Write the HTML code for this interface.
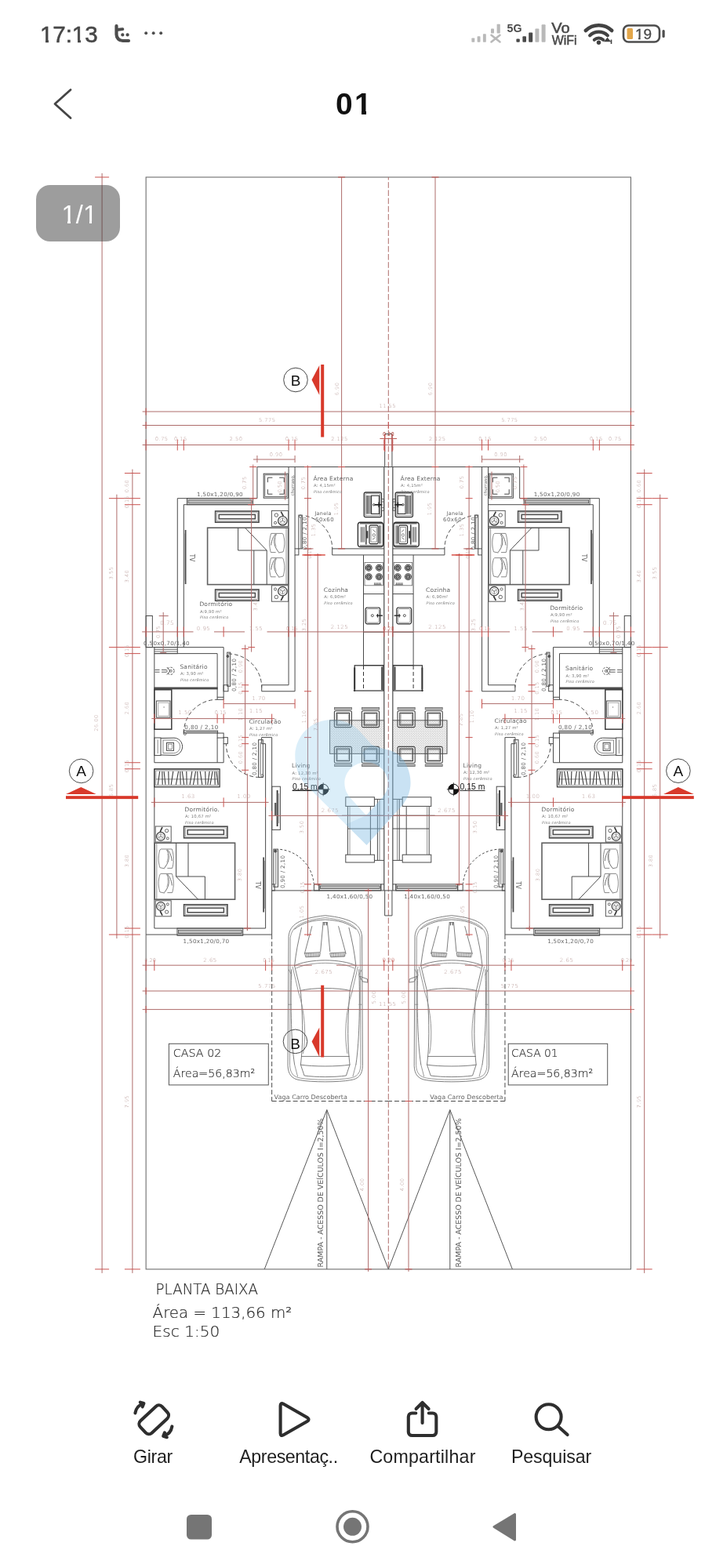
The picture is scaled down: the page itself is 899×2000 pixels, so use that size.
<!DOCTYPE html>
<html lang="pt-BR">
<head>
<meta charset="utf-8">
<title>01</title>
<style>
html,body{margin:0;padding:0;background:#fff;}
body{width:899px;height:2000px;position:relative;overflow:hidden;font-family:"Liberation Sans",sans-serif;color:#222;}
.abs{position:absolute;will-change:transform;}
#status{left:0;top:0;width:899px;height:84px;}
#clock{left:50.8px;top:27px;font-size:29.6px;line-height:34px;color:#484848;letter-spacing:-0.1px;-webkit-text-stroke:0.55px #484848;}
#title{left:427.9px;top:109.6px;white-space:nowrap;font-size:39px;letter-spacing:2.4px;line-height:46px;font-weight:bold;color:#111;}
#badge{left:46px;top:237.6px;margin-top:-1.6px;padding-top:1.6px;box-sizing:border-box;width:107px;height:72px;border-radius:18px;background:rgba(60,60,60,0.5);color:#fff;font-size:32.5px;line-height:72px;text-align:left;letter-spacing:0.2px;text-indent:32.6px;white-space:nowrap;overflow:hidden;}
.m{position:absolute;display:block;background:#fff;}
#badge .m{background:#9d9d9d;}
#plan{left:0;top:0;width:899px;height:2000px;will-change:transform;transform:translateZ(0);}
#plan text.cad{font-family:"DejaVu Sans Light","DejaVu Sans","Liberation Sans",sans-serif;font-weight:200;}
#plan text.cadn{font-family:"DejaVu Sans","Liberation Sans",sans-serif;font-weight:400;}
#plan text.ui{font-family:"Liberation Sans",sans-serif;}
.tool{top:1782px;width:200px;text-align:center;font-size:23.2px;line-height:26px;color:#1e1e1e;}
.tool svg{display:block;margin:0 auto;}
.tool span{display:block;margin-top:5.3px;white-space:nowrap;}
#nav{left:0;top:1900px;width:899px;height:100px;}
</style>
</head>
<body>
<div id="status" class="abs">
<div id="clock" class="abs">17:13<i class="m" style="left:1.500px;top:23.500px;width:5.700px;height:4.400px"></i><i class="m" style="left:10.600px;top:23.500px;width:5.800px;height:4.400px"></i><i class="m" style="left:41.500px;top:23.500px;width:6.600px;height:4.400px"></i><i class="m" style="left:51.500px;top:23.500px;width:6px;height:4.400px"></i></div>
<svg class="abs" style="left:140px;top:24px" width="32" height="36" viewBox="0 0 32 36">
<path d="M8.5 9 V20 a8 8 0 0 0 8 8 h7.5" fill="none" stroke="#4d4d4d" stroke-width="4.2" stroke-linecap="round"/>
<path d="M9 14 l7.4 -0.8" fill="none" stroke="#4d4d4d" stroke-width="3.8" stroke-linecap="round"/>
<circle cx="16.300" cy="20.400" r="2.100" fill="#4d4d4d"/><circle cx="22.600" cy="20.400" r="2.100" fill="#4d4d4d"/>
</svg>
<svg id="dots" class="abs" style="left:180px;top:34px" width="32" height="14" viewBox="180 34 32 14" role="img"><title>···</title><circle cx="186.200" cy="42.200" r="1.950" fill="#4d4d4d"/><circle cx="195.700" cy="42.200" r="1.950" fill="#4d4d4d"/><circle cx="205.200" cy="42.200" r="1.950" fill="#4d4d4d"/></svg>
<svg class="abs" style="left:596px;top:24px" width="260" height="40" viewBox="596 24 260 40">
<g fill="#b9b9b9">
<rect x="601.400" y="48.500" width="3.900" height="5.300" rx="0.800"/><rect x="608.600" y="46.300" width="3.900" height="7.500" rx="0.800"/><rect x="615.900" y="43.300" width="3.900" height="10.500" rx="0.800"/>
<rect x="626" y="36.500" width="4" height="6" rx="0.800"/><rect x="633.600" y="30.700" width="4.200" height="11.800" rx="0.800"/>
</g>
<path d="M626.500 44.800 l11 8.600 M637.500 44.800 l-11 8.600" stroke="#b9b9b9" stroke-width="2.600" fill="none" stroke-linecap="round"/>
<text x="646.600" y="40.600" font-family="Liberation Sans,sans-serif" font-weight="bold" font-size="14.200" fill="#4a4a4a">5G</text>
<g fill="#4a4a4a">
<rect x="658.400" y="49.400" width="4.400" height="4.400" rx="1"/><rect x="666.400" y="46.300" width="4.600" height="7.500" rx="1"/><rect x="674.200" y="41.500" width="5" height="12.300" rx="1"/>
</g>
<rect x="682.400" y="36.400" width="5" height="17.400" rx="1" fill="#b9b9b9"/><rect x="690.600" y="31.300" width="5" height="22.500" rx="1" fill="#b9b9b9"/>
<text x="703.200" y="41.600" font-family="Liberation Sans,sans-serif" font-size="17.600" fill="#4a4a4a" stroke="#4a4a4a" stroke-width="0.550" textLength="23.400" lengthAdjust="spacingAndGlyphs">Vo</text>
<text x="703.800" y="56.600" font-family="Liberation Sans,sans-serif" font-size="17.400" fill="#4a4a4a" stroke="#4a4a4a" stroke-width="0.550" textLength="31.800" lengthAdjust="spacingAndGlyphs">WiFi</text>
<g fill="none" stroke="#424242" stroke-linecap="round">
<path d="M746.800 39 a24 24 0 0 1 33.400 0" stroke-width="4.600"/>
<path d="M752.200 45.200 a16.500 16.500 0 0 1 22.600 0" stroke-width="4.300"/>
<path d="M757.800 50.800 a8.500 8.500 0 0 1 11.400 0" stroke-width="4"/>
</g>
<circle cx="763.500" cy="54.300" r="2.700" fill="#424242"/>
<path d="M771.500 52.500 l3 -3.500 l3 3.500 z M779.500 50.500 v5.500" fill="#424242" stroke="#424242" stroke-width="1.600"/>
<rect x="795" y="32.5" width="46" height="21" rx="6.5" fill="#fff" stroke="#4d4d4d" stroke-width="2.6"/>
<rect x="799.5" y="36" width="7.5" height="14" rx="1.5" fill="#e3a64a"/>
<rect x="844.5" y="38" width="3.2" height="10" rx="1.5" fill="#4d4d4d"/>
<text x="820.600" y="50" text-anchor="middle" font-family="Liberation Sans,sans-serif" font-size="19" fill="#4a4a4a" stroke="#4a4a4a" stroke-width="0.300">19</text>
<rect x="810.300" y="47.600" width="3.700" height="3.600" fill="#fff"/><rect x="816.700" y="47.600" width="3.500" height="3.600" fill="#fff"/>
</svg>
</div>
<svg class="abs" style="left:60px;top:106px" width="40" height="54" viewBox="60 106 40 54"><path d="M90 114.5 L70 132.5 L90 150.5" fill="none" stroke="#454545" stroke-width="2.8" stroke-linecap="round" stroke-linejoin="round"/></svg>
<div id="title" class="abs">01<i class="m" style="left:24.100px;top:32px;width:9px;height:4.800px"></i><i class="m" style="left:38.600px;top:32px;width:8px;height:4.800px"></i></div>
<svg id="plan" class="abs" width="899" height="2000" viewBox="0 0 899 2000">
<defs><pattern id="hatch" width="3" height="3" patternUnits="userSpaceOnUse"><rect width="3" height="3" fill="#f0f0f0"/><circle cx="0.8" cy="0.8" r="0.55" fill="#b2b2b2"/><circle cx="2.3" cy="2.3" r="0.55" fill="#bababa"/></pattern></defs>
<rect x="186.15" y="226" width="618.3" height="1392.9" fill="none" stroke="#6e6e6e" stroke-width="1.1"/>
<line x1="495.3" y1="226" x2="495.3" y2="1618.9" stroke="#ae6c6a" stroke-width="1" stroke-dasharray="7.6 2.6" stroke-dashoffset="4"/>
<line x1="327.93" y1="595.55" x2="489.76" y2="595.55" stroke="#4a4a4a" stroke-width="1"/>
<line x1="327.93" y1="595.55" x2="327.93" y2="635.68" stroke="#4a4a4a" stroke-width="1"/>
<line x1="226.28" y1="635.68" x2="327.93" y2="635.68" stroke="#4a4a4a" stroke-width="1"/>
<line x1="226.28" y1="635.68" x2="226.28" y2="825.6" stroke="#4a4a4a" stroke-width="1"/>
<line x1="186.15" y1="825.6" x2="285.12" y2="825.6" stroke="#4a4a4a" stroke-width="1"/>
<rect x="186.15" y="785.48" width="8.2" height="40.12" fill="none" stroke="#4a4a4a" stroke-width="1"/>
<line x1="234.3" y1="643.7" x2="368.05" y2="643.7" stroke="#4a4a4a" stroke-width="1"/>
<line x1="234.3" y1="643.7" x2="234.3" y2="825.6" stroke="#4a4a4a" stroke-width="1"/>
<line x1="368.05" y1="595.55" x2="368.05" y2="873.75" stroke="#4a4a4a" stroke-width="1"/>
<line x1="376.07" y1="595.55" x2="376.07" y2="699.88" stroke="#4a4a4a" stroke-width="1"/>
<line x1="376.07" y1="707.9" x2="376.07" y2="881.78" stroke="#4a4a4a" stroke-width="1"/>
<line x1="333.73" y1="873.75" x2="368.05" y2="873.75" stroke="#4a4a4a" stroke-width="1"/>
<line x1="333.73" y1="881.78" x2="376.07" y2="881.78" stroke="#4a4a4a" stroke-width="1"/>
<line x1="333.73" y1="873.75" x2="333.73" y2="881.78" stroke="#4a4a4a" stroke-width="1"/>
<rect x="285.12" y="873.75" width="5.8" height="8.02" fill="none" stroke="#4a4a4a" stroke-width="1"/>
<rect x="289.73" y="832.12" width="4" height="43.13" fill="none" stroke="#4a4a4a" stroke-width="1"/>
<line x1="291.82" y1="835.62" x2="291.82" y2="873.75" stroke="#888" stroke-width="0.7"/>
<circle cx="290.32" cy="837.02" r="1.5" fill="#555" stroke="#4a4a4a" stroke-width="0.8"/>
<path d="M290.93 833.95 L293.72 834.04 L296.51 834.32 L299.27 834.77 L302 835.41 L304.68 836.22 L307.3 837.21 L309.85 838.36 L312.33 839.68 L314.7 841.16 L316.98 842.79 L319.15 844.57 L321.19 846.49 L323.1 848.53 L324.88 850.7 L326.51 852.97 L327.99 855.35 L329.31 857.82 L330.47 860.37 L331.45 862.99 L332.27 865.67 L332.9 868.4 L333.36 871.16 L333.63 873.95 L333.73 876.75" fill="none" stroke="#4a4a4a" stroke-width="1" stroke-dasharray="5 3"/>
<rect x="376.07" y="699.88" width="4.8" height="8.02" fill="none" stroke="#4a4a4a" stroke-width="1"/>
<line x1="423.68" y1="699.88" x2="489.76" y2="699.88" stroke="#4a4a4a" stroke-width="1"/>
<line x1="423.68" y1="707.9" x2="489.76" y2="707.9" stroke="#4a4a4a" stroke-width="1"/>
<line x1="423.68" y1="699.88" x2="423.68" y2="707.9" stroke="#4a4a4a" stroke-width="1"/>
<rect x="380.88" y="657.08" width="4.4" height="42.8" fill="none" stroke="#4a4a4a" stroke-width="1"/>
<line x1="383.77" y1="660.08" x2="383.77" y2="699.88" stroke="#4a4a4a" stroke-width="0.8"/>
<circle cx="383.07" cy="658.58" r="1.6" fill="none" stroke="#4a4a4a" stroke-width="0.8"/>
<path d="M389.77 658.01 L392.13 658.58 L394.46 659.29 L396.73 660.12 L398.96 661.09 L401.13 662.17 L403.24 663.38 L405.27 664.71 L407.23 666.15 L409.1 667.7 L410.87 669.35 L412.56 671.1 L414.14 672.94 L415.61 674.87 L416.97 676.88 L418.22 678.96 L419.34 681.11 L420.35 683.32 L421.22 685.59 L421.97 687.9 L422.58 690.25 L423.06 692.63 L423.4 695.03 L423.61 697.45 L423.68 699.88" fill="none" stroke="#4a4a4a" stroke-width="1" stroke-dasharray="5 3"/>
<line x1="196.85" y1="833.62" x2="277.1" y2="833.62" stroke="#4a4a4a" stroke-width="1"/>
<line x1="196.85" y1="833.62" x2="196.85" y2="972.73" stroke="#4a4a4a" stroke-width="1"/>
<line x1="196.85" y1="972.73" x2="285.12" y2="972.73" stroke="#4a4a4a" stroke-width="1"/>
<line x1="277.1" y1="833.62" x2="277.1" y2="889.28" stroke="#4a4a4a" stroke-width="1"/>
<line x1="285.12" y1="825.6" x2="285.12" y2="889.28" stroke="#4a4a4a" stroke-width="1"/>
<rect x="277.1" y="889.28" width="8.02" height="3" fill="none" stroke="#4a4a4a" stroke-width="1"/>
<rect x="277.1" y="935.08" width="8.02" height="6" fill="none" stroke="#4a4a4a" stroke-width="1"/>
<line x1="277.1" y1="941.08" x2="277.1" y2="972.73" stroke="#4a4a4a" stroke-width="1"/>
<line x1="285.12" y1="941.08" x2="285.12" y2="940.63" stroke="#4a4a4a" stroke-width="1"/>
<line x1="285.12" y1="948.65" x2="285.12" y2="972.73" stroke="#4a4a4a" stroke-width="1"/>
<rect x="234.3" y="932.08" width="43.3" height="3" fill="none" stroke="#4a4a4a" stroke-width="1"/>
<line x1="237.3" y1="933.78" x2="277.1" y2="933.78" stroke="#4a4a4a" stroke-width="0.8"/>
<circle cx="235.8" cy="935.88" r="1.6" fill="none" stroke="#4a4a4a" stroke-width="0.8"/>
<path d="M234.3 935.08 L234.39 932.28 L234.67 929.49 L235.12 926.73 L235.76 924 L236.57 921.32 L237.56 918.7 L238.71 916.15 L240.03 913.68 L241.51 911.3 L243.14 909.02 L244.92 906.85 L246.84 904.81 L248.88 902.9 L251.05 901.12 L253.32 899.49 L255.7 898.01 L258.17 896.69 L260.72 895.53 L263.34 894.55 L266.02 893.73 L268.75 893.1 L271.51 892.64 L274.3 892.37 L277.1 892.28" fill="none" stroke="#4a4a4a" stroke-width="1" stroke-dasharray="5 3"/>
<rect x="196.85" y="825.6" width="29.43" height="8.02" fill="none" stroke="#4a4a4a" stroke-width="1"/>
<line x1="196.85" y1="828.3" x2="226.28" y2="828.3" stroke="#4a4a4a" stroke-width="0.8"/>
<line x1="196.85" y1="831" x2="226.28" y2="831" stroke="#4a4a4a" stroke-width="0.8"/>
<rect x="285.12" y="940.63" width="5.2" height="8.02" fill="none" stroke="#4a4a4a" stroke-width="1"/>
<line x1="333.62" y1="940.63" x2="346.65" y2="940.63" stroke="#4a4a4a" stroke-width="1"/>
<line x1="333.62" y1="940.63" x2="333.62" y2="948.65" stroke="#4a4a4a" stroke-width="1"/>
<line x1="333.62" y1="948.65" x2="338.62" y2="948.65" stroke="#4a4a4a" stroke-width="1"/>
<line x1="338.62" y1="948.65" x2="338.62" y2="1184.05" stroke="#4a4a4a" stroke-width="1"/>
<line x1="346.65" y1="940.63" x2="346.65" y2="1127.88" stroke="#4a4a4a" stroke-width="1"/>
<line x1="346.65" y1="1135.9" x2="346.65" y2="1192.08" stroke="#4a4a4a" stroke-width="1"/>
<rect x="329.62" y="943.65" width="5.7" height="47.8" fill="none" stroke="#4a4a4a" stroke-width="1"/>
<line x1="332.12" y1="946.65" x2="332.12" y2="988.45" stroke="#4a4a4a" stroke-width="0.8"/>
<circle cx="334.32" cy="989.45" r="1.6" fill="none" stroke="#4a4a4a" stroke-width="0.8"/>
<path d="M331.12 991.45 L328.33 991.36 L325.54 991.08 L322.78 990.63 L320.05 989.99 L317.37 989.18 L314.75 988.19 L312.2 987.04 L309.73 985.72 L307.35 984.24 L305.07 982.61 L302.9 980.83 L300.86 978.91 L298.95 976.87 L297.17 974.7 L295.54 972.43 L294.06 970.05 L292.74 967.58 L291.58 965.03 L290.6 962.41 L289.78 959.73 L289.15 957 L288.69 954.24 L288.42 951.45 L288.32 948.65" fill="none" stroke="#4a4a4a" stroke-width="1" stroke-dasharray="5 3"/>
<line x1="196.85" y1="980.75" x2="279.6" y2="980.75" stroke="#4a4a4a" stroke-width="1"/>
<line x1="196.85" y1="980.75" x2="196.85" y2="1184.05" stroke="#4a4a4a" stroke-width="1"/>
<line x1="196.85" y1="1184.05" x2="338.62" y2="1184.05" stroke="#4a4a4a" stroke-width="1"/>
<line x1="186.15" y1="1192.08" x2="346.65" y2="1192.08" stroke="#4a4a4a" stroke-width="1"/>
<rect x="225.97" y="1184.05" width="83.8" height="9.23" fill="none" stroke="#4a4a4a" stroke-width="1"/>
<rect x="227.47" y="1186.25" width="80.8" height="4.2" fill="#bdbdbd" stroke="#4a4a4a" stroke-width="0.8"/>
<rect x="238.5" y="635.68" width="84.03" height="8.02" fill="none" stroke="#4a4a4a" stroke-width="1"/>
<rect x="240" y="637.88" width="81.03" height="4" fill="#bdbdbd" stroke="#4a4a4a" stroke-width="0.8"/>
<line x1="346.65" y1="1135.9" x2="489.76" y2="1135.9" stroke="#4a4a4a" stroke-width="1"/>
<rect x="346.65" y="1127.88" width="3.6" height="8.03" fill="none" stroke="#4a4a4a" stroke-width="1"/>
<rect x="400.4" y="1127.88" width="6.5" height="8.03" fill="none" stroke="#4a4a4a" stroke-width="1"/>
<line x1="485.76" y1="1127.88" x2="489.76" y2="1127.88" stroke="#4a4a4a" stroke-width="1"/>
<line x1="485.76" y1="1127.88" x2="485.76" y2="1135.9" stroke="#4a4a4a" stroke-width="1"/>
<rect x="406.9" y="1127.88" width="78.86" height="8.03" fill="none" stroke="#4a4a4a" stroke-width="1"/>
<rect x="408.4" y="1129.88" width="75.86" height="3.6" fill="#bdbdbd" stroke="#4a4a4a" stroke-width="0.8"/>
<rect x="348.85" y="1083.12" width="5.6" height="48.15" fill="none" stroke="#4a4a4a" stroke-width="1"/>
<line x1="351.85" y1="1086.12" x2="351.85" y2="1128.28" stroke="#4a4a4a" stroke-width="0.8"/>
<circle cx="351.25" cy="1085.53" r="1.7" fill="#555" stroke="#4a4a4a" stroke-width="0.8"/>
<path d="M357.28 1083.39 L360.02 1083.76 L362.74 1084.28 L365.42 1084.96 L368.06 1085.79 L370.64 1086.78 L373.17 1087.91 L375.62 1089.18 L378 1090.59 L380.3 1092.14 L382.5 1093.81 L384.6 1095.61 L386.59 1097.53 L388.47 1099.55 L390.24 1101.69 L391.87 1103.92 L393.38 1106.24 L394.75 1108.64 L395.98 1111.12 L397.06 1113.66 L398 1116.26 L398.79 1118.91 L399.42 1121.61 L399.9 1124.33 L400.22 1127.08" fill="none" stroke="#4a4a4a" stroke-width="1" stroke-dasharray="3 2.4"/>
<line x1="489.76" y1="595.55" x2="489.76" y2="1135.9" stroke="#4a4a4a" stroke-width="1.2"/>
<line x1="490.66" y1="553.55" x2="490.66" y2="595.55" stroke="#4a4a4a" stroke-width="1"/>
<line x1="490.66" y1="1135.9" x2="490.66" y2="1167.9" stroke="#4a4a4a" stroke-width="1"/>
<line x1="346.65" y1="1192.08" x2="346.65" y2="1404.5" stroke="#4a4a4a" stroke-width="1" stroke-dasharray="6 3"/>
<line x1="346.65" y1="1404.5" x2="495.3" y2="1404.5" stroke="#4a4a4a" stroke-width="1" stroke-dasharray="6 3"/>
<path d="M337.2 1618.9 L416.8 1415.6 L495.3 1618.9" fill="none" stroke="#555" stroke-width="1"/>
<line x1="416.8" y1="1415.6" x2="416.8" y2="1618.9" stroke="#555" stroke-width="1"/>
<rect x="336.2" y="604.2" width="31.2" height="31" fill="none" stroke="#4a4a4a" stroke-width="1"/>
<rect x="337.8" y="605.8" width="28" height="27.8" fill="none" stroke="#4a4a4a" stroke-width="0.8"/>
<path d="M347.4 609.2 L341.4 609.2 L341.4 615.2" fill="none" stroke="#4a4a4a" stroke-width="1"/>
<path d="M356.2 609.2 L362.2 609.2 L362.2 615.2" fill="none" stroke="#4a4a4a" stroke-width="1"/>
<path d="M347.4 630.2 L341.4 630.2 L341.4 624.2" fill="none" stroke="#4a4a4a" stroke-width="1"/>
<path d="M356.2 630.2 L362.2 630.2 L362.2 624.2" fill="none" stroke="#4a4a4a" stroke-width="1"/>
<rect x="264.6" y="673.2" width="103" height="72.4" fill="none" stroke="#606060" stroke-width="1.6"/>
<line x1="365" y1="673.2" x2="365" y2="745.6" stroke="#777" stroke-width="0.8"/>
<line x1="340.2" y1="702" x2="340.2" y2="745.6" stroke="#4a4a4a" stroke-width="1"/>
<path d="M345.75 680.4 L345.04 682.82 L344.48 685.24 L344.07 687.66 L343.81 690.08 L343.69 692.5 L343.73 694.92 L343.91 697.34 L344.25 699.76 L344.73 702.18 L345.36 704.6 L351.63 704.6" fill="none" stroke="#7a7a7a" stroke-width="0.9"/>
<path d="M345.75 680.4 L359.86 680.4 L361.04 681.37 L361.68 683.6 L362.17 685.83 L362.52 688.07 L362.73 690.31 L362.8 692.56 L362.73 694.81 L362.52 697.07 L362.17 699.33 L361.68 701.6 L361.04 703.87 L355.16 705.08" fill="none" stroke="#7a7a7a" stroke-width="0.9"/>
<path d="M351.63 680.88 L350.66 682.03 L349.77 683.25 L348.96 684.53 L348.25 685.88 L347.61 687.3 L347.07 688.78 L346.61 690.34 L346.24 691.96 L345.95 693.65 L345.75 695.4" fill="none" stroke="#6a6a6a" stroke-width="1"/>
<path d="M352.42 681.37 L351.25 683.6 L350.41 685.86 L349.9 688.13 L349.72 690.43 L349.87 692.74 L350.35 695.07 L351.15 697.43 L352.29 699.8 L353.76 702.19 L355.55 704.6" fill="none" stroke="#6a6a6a" stroke-width="1"/>
<path d="M351.24 686.45 L351.11 687.65 L351.04 688.82 L351.02 689.97 L351.05 691.1 L351.14 692.2 L351.29 693.27 L351.49 694.33 L351.74 695.36 L352.05 696.36 L352.42 697.34" fill="none" stroke="#9a9a9a" stroke-width="0.7"/>
<path d="M345.75 711.6 L345.04 714.02 L344.48 716.44 L344.07 718.86 L343.81 721.28 L343.69 723.7 L343.73 726.12 L343.91 728.54 L344.25 730.96 L344.73 733.38 L345.36 735.8 L351.63 735.8" fill="none" stroke="#7a7a7a" stroke-width="0.9"/>
<path d="M345.75 711.6 L359.86 711.6 L361.04 712.57 L361.68 714.8 L362.17 717.03 L362.52 719.27 L362.73 721.51 L362.8 723.76 L362.73 726.01 L362.52 728.27 L362.17 730.53 L361.68 732.8 L361.04 735.07 L355.16 736.28" fill="none" stroke="#7a7a7a" stroke-width="0.9"/>
<path d="M351.63 712.08 L350.66 713.23 L349.77 714.45 L348.96 715.73 L348.25 717.08 L347.61 718.5 L347.07 719.98 L346.61 721.54 L346.24 723.16 L345.95 724.85 L345.75 726.6" fill="none" stroke="#6a6a6a" stroke-width="1"/>
<path d="M352.42 712.57 L351.25 714.8 L350.41 717.06 L349.9 719.33 L349.72 721.63 L349.87 723.94 L350.35 726.27 L351.15 728.63 L352.29 731 L353.76 733.39 L355.55 735.8" fill="none" stroke="#6a6a6a" stroke-width="1"/>
<path d="M351.24 717.65 L351.11 718.85 L351.04 720.02 L351.02 721.17 L351.05 722.3 L351.14 723.4 L351.29 724.47 L351.49 725.53 L351.74 726.56 L352.05 727.56 L352.42 728.54" fill="none" stroke="#9a9a9a" stroke-width="0.7"/>
<line x1="303.6" y1="673.2" x2="303.6" y2="702" stroke="#4a4a4a" stroke-width="1"/>
<line x1="303.6" y1="702" x2="340.2" y2="702" stroke="#4a4a4a" stroke-width="1"/>
<line x1="312.5" y1="673.2" x2="340.2" y2="702" stroke="#4a4a4a" stroke-width="1"/>
<line x1="323.8" y1="702" x2="323.8" y2="745.6" stroke="#4a4a4a" stroke-width="1"/>
<rect x="274.6" y="652" width="55.4" height="14.2" fill="none" stroke="#4a4a4a" stroke-width="1.6"/>
<rect x="276.4" y="653.8" width="51.8" height="10.6" fill="none" stroke="#8a8a8a" stroke-width="0.7"/>
<rect x="279.2" y="656.4" width="46.2" height="5.4" fill="none" stroke="#4a4a4a" stroke-width="1.5"/>
<rect x="274.6" y="752" width="55.4" height="14.2" fill="none" stroke="#4a4a4a" stroke-width="1.6"/>
<rect x="276.4" y="753.8" width="51.8" height="10.6" fill="none" stroke="#8a8a8a" stroke-width="0.7"/>
<rect x="279.2" y="756.4" width="46.2" height="5.4" fill="none" stroke="#4a4a4a" stroke-width="1.5"/>
<rect x="346.4" y="651.4" width="21.2" height="20" fill="none" stroke="#5a5a5a" stroke-width="1"/>
<circle cx="360.39" cy="664.2" r="5.72" fill="none" stroke="#3c3c3c" stroke-width="1.2"/>
<circle cx="360.39" cy="664.2" r="3.55" fill="none" stroke="#8a8a8a" stroke-width="0.6"/>
<line x1="360.39" y1="664.2" x2="360.39" y2="660.65" stroke="#555" stroke-width="0.8"/>
<line x1="360.39" y1="664.2" x2="357.32" y2="665.97" stroke="#555" stroke-width="0.8"/>
<line x1="360.39" y1="664.2" x2="363.47" y2="665.97" stroke="#555" stroke-width="0.8"/>
<line x1="358.27" y1="652.6" x2="361.24" y2="658.2" stroke="#3a3a3a" stroke-width="1.7"/>
<circle cx="352.34" cy="657" r="2.23" fill="none" stroke="#555" stroke-width="0.9"/>
<circle cx="351.06" cy="666.8" r="1.59" fill="none" stroke="#555" stroke-width="0.9"/>
<rect x="346.4" y="746.8" width="21.2" height="20.4" fill="none" stroke="#5a5a5a" stroke-width="1"/>
<circle cx="360.39" cy="754.14" r="5.72" fill="none" stroke="#3c3c3c" stroke-width="1.2"/>
<circle cx="360.39" cy="754.14" r="3.55" fill="none" stroke="#8a8a8a" stroke-width="0.6"/>
<line x1="360.39" y1="754.14" x2="360.39" y2="757.69" stroke="#555" stroke-width="0.8"/>
<line x1="360.39" y1="754.14" x2="357.32" y2="752.37" stroke="#555" stroke-width="0.8"/>
<line x1="360.39" y1="754.14" x2="363.47" y2="752.37" stroke="#555" stroke-width="0.8"/>
<line x1="358.27" y1="765.98" x2="361.24" y2="760.26" stroke="#3a3a3a" stroke-width="1.7"/>
<circle cx="352.34" cy="761.49" r="2.23" fill="none" stroke="#555" stroke-width="0.9"/>
<circle cx="351.06" cy="751.49" r="1.59" fill="none" stroke="#555" stroke-width="0.9"/>
<line x1="236.6" y1="676" x2="236.6" y2="745" stroke="#444" stroke-width="1.7"/>
<line x1="234.9" y1="680.5" x2="234.9" y2="740.5" stroke="#777" stroke-width="0.8"/>
<rect x="196.85" y="876.95" width="80.25" height="2" fill="#555" stroke="#3a3a3a" stroke-width="0.8"/>
<line x1="197.5" y1="854.4" x2="203.5" y2="854.4" stroke="#4a4a4a" stroke-width="0.9"/>
<line x1="197.5" y1="857.2" x2="203.5" y2="857.2" stroke="#4a4a4a" stroke-width="0.9"/>
<line x1="206" y1="854.4" x2="212.5" y2="854.4" stroke="#4a4a4a" stroke-width="0.9"/>
<line x1="206" y1="857.2" x2="212.5" y2="857.2" stroke="#4a4a4a" stroke-width="0.9"/>
<circle cx="217.5" cy="855.8" r="4.6" fill="none" stroke="#4a4a4a" stroke-width="0.9" stroke-dasharray="2.6 1.6"/>
<path d="M212.9 851 L216.9 855.8 L212.9 860.6" fill="none" stroke="#4a4a4a" stroke-width="0.9"/>
<circle cx="217.7" cy="855.8" r="1.5" fill="none" stroke="#4a4a4a" stroke-width="0.8"/>
<rect x="196.85" y="879.75" width="21.95" height="50.45" fill="none" stroke="#3c3c3c" stroke-width="1.5"/>
<rect x="199.4" y="894" width="17.6" height="21.2" fill="none" stroke="#4a4a4a" stroke-width="1"/>
<rect x="201.8" y="896.2" width="13.4" height="17" fill="none" stroke="#8a8a8a" stroke-width="0.7"/>
<line x1="208.4" y1="902" x2="209.8" y2="902" stroke="#4a4a4a" stroke-width="0.8"/>
<rect x="196.85" y="941" width="8.15" height="22.6" fill="none" stroke="#4a4a4a" stroke-width="1"/>
<line x1="201.2" y1="943.4" x2="201.2" y2="961.2" stroke="#6a6a6a" stroke-width="0.8"/>
<path d="M205 941.6 L222 941.2 L222 941.2 L224.74 941.58 L227.3 942.69 L229.5 944.45 L231.18 946.75 L232.24 949.43 L232.6 952.3 L232.24 955.17 L231.18 957.85 L229.5 960.15 L227.3 961.91 L224.74 963.02 L222 963.4 L222 963.4 L205 963" fill="none" stroke="#4a4a4a" stroke-width="1"/>
<path d="M208 944 L221.6 944 L221.6 944 L223.67 944.28 L225.6 945.11 L227.26 946.43 L228.53 948.15 L229.33 950.15 L229.6 952.3 L229.33 954.45 L228.53 956.45 L227.26 958.17 L225.6 959.49 L223.67 960.32 L221.6 960.6 L221.6 960.6 L208 960.6 Z" fill="none" stroke="#6a6a6a" stroke-width="0.8"/>
<rect x="212.5" y="947.4" width="9" height="10" fill="none" stroke="#4a4a4a" stroke-width="1"/>
<rect x="214.4" y="949.2" width="5.2" height="6.4" fill="none" stroke="#6a6a6a" stroke-width="0.7"/>
<rect x="196.85" y="980.95" width="83.25" height="22.85" fill="none" stroke="#3c3c3c" stroke-width="1.3"/>
<rect x="198.85" y="982.95" width="79.25" height="18.85" fill="none" stroke="#6a6a6a" stroke-width="0.7"/>
<line x1="198.85" y1="993.88" x2="278.1" y2="993.88" stroke="#6a6a6a" stroke-width="0.8"/>
<line x1="203.7" y1="983.95" x2="201.3" y2="1000.8" stroke="#3c3c3c" stroke-width="1.1"/>
<line x1="206.8" y1="983.95" x2="207.2" y2="1000.8" stroke="#3c3c3c" stroke-width="1.1"/>
<line x1="209.1" y1="983.95" x2="210.9" y2="1000.8" stroke="#3c3c3c" stroke-width="1.1"/>
<line x1="214.8" y1="983.95" x2="215.2" y2="1000.8" stroke="#3c3c3c" stroke-width="1.1"/>
<line x1="220.8" y1="983.95" x2="218.2" y2="1000.8" stroke="#3c3c3c" stroke-width="1.1"/>
<line x1="227.6" y1="983.95" x2="224.4" y2="1000.8" stroke="#3c3c3c" stroke-width="1.1"/>
<line x1="229.8" y1="983.95" x2="230.2" y2="1000.8" stroke="#3c3c3c" stroke-width="1.1"/>
<line x1="232.3" y1="983.95" x2="234.7" y2="1000.8" stroke="#3c3c3c" stroke-width="1.1"/>
<line x1="237.8" y1="983.95" x2="238.2" y2="1000.8" stroke="#3c3c3c" stroke-width="1.1"/>
<line x1="244.9" y1="983.95" x2="242.1" y2="1000.8" stroke="#3c3c3c" stroke-width="1.1"/>
<line x1="249.5" y1="983.95" x2="246.5" y2="1000.8" stroke="#3c3c3c" stroke-width="1.1"/>
<line x1="251.8" y1="983.95" x2="252.2" y2="1000.8" stroke="#3c3c3c" stroke-width="1.1"/>
<line x1="255.2" y1="983.95" x2="257.8" y2="1000.8" stroke="#3c3c3c" stroke-width="1.1"/>
<line x1="261.7" y1="983.95" x2="262.3" y2="1000.8" stroke="#3c3c3c" stroke-width="1.1"/>
<line x1="267.2" y1="983.95" x2="264.8" y2="1000.8" stroke="#3c3c3c" stroke-width="1.1"/>
<line x1="271" y1="983.95" x2="268" y2="1000.8" stroke="#3c3c3c" stroke-width="1.1"/>
<line x1="273.8" y1="983.95" x2="274.2" y2="1000.8" stroke="#3c3c3c" stroke-width="1.1"/>
<line x1="275.9" y1="983.95" x2="278.1" y2="1000.8" stroke="#3c3c3c" stroke-width="1.1"/>
<rect x="197.2" y="1075.2" width="102.4" height="72" fill="none" stroke="#606060" stroke-width="1.6"/>
<line x1="199.8" y1="1075.2" x2="199.8" y2="1147.2" stroke="#777" stroke-width="0.8"/>
<line x1="224.6" y1="1075.2" x2="224.6" y2="1118" stroke="#4a4a4a" stroke-width="1"/>
<path d="M219.25 1083 L219.96 1085.44 L220.52 1087.88 L220.93 1090.32 L221.19 1092.76 L221.31 1095.2 L221.27 1097.64 L221.09 1100.08 L220.75 1102.52 L220.27 1104.96 L219.64 1107.4 L213.37 1107.4" fill="none" stroke="#7a7a7a" stroke-width="0.9"/>
<path d="M219.25 1083 L205.14 1083 L203.96 1083.98 L203.32 1086.22 L202.83 1088.48 L202.48 1090.73 L202.27 1092.99 L202.2 1095.26 L202.27 1097.53 L202.48 1099.81 L202.83 1102.09 L203.32 1104.38 L203.96 1106.67 L209.84 1107.89" fill="none" stroke="#7a7a7a" stroke-width="0.9"/>
<path d="M213.37 1083.49 L214.34 1084.64 L215.23 1085.87 L216.04 1087.16 L216.75 1088.52 L217.39 1089.95 L217.93 1091.45 L218.39 1093.02 L218.76 1094.65 L219.05 1096.36 L219.25 1098.13" fill="none" stroke="#6a6a6a" stroke-width="1"/>
<path d="M212.58 1083.98 L213.75 1086.23 L214.59 1088.5 L215.1 1090.8 L215.28 1093.11 L215.13 1095.44 L214.65 1097.8 L213.85 1100.17 L212.71 1102.56 L211.24 1104.97 L209.45 1107.4" fill="none" stroke="#6a6a6a" stroke-width="1"/>
<path d="M213.76 1089.1 L213.89 1090.31 L213.96 1091.49 L213.98 1092.65 L213.95 1093.78 L213.86 1094.89 L213.71 1095.98 L213.51 1097.04 L213.26 1098.08 L212.95 1099.09 L212.58 1100.08" fill="none" stroke="#9a9a9a" stroke-width="0.7"/>
<path d="M219.25 1114.4 L219.96 1116.82 L220.52 1119.24 L220.93 1121.66 L221.19 1124.08 L221.31 1126.5 L221.27 1128.92 L221.09 1131.34 L220.75 1133.76 L220.27 1136.18 L219.64 1138.6 L213.37 1138.6" fill="none" stroke="#7a7a7a" stroke-width="0.9"/>
<path d="M219.25 1114.4 L205.14 1114.4 L203.96 1115.37 L203.32 1117.6 L202.83 1119.83 L202.48 1122.07 L202.27 1124.31 L202.2 1126.56 L202.27 1128.81 L202.48 1131.07 L202.83 1133.33 L203.32 1135.6 L203.96 1137.87 L209.84 1139.08" fill="none" stroke="#7a7a7a" stroke-width="0.9"/>
<path d="M213.37 1114.88 L214.34 1116.03 L215.23 1117.25 L216.04 1118.53 L216.75 1119.88 L217.39 1121.3 L217.93 1122.78 L218.39 1124.34 L218.76 1125.96 L219.05 1127.65 L219.25 1129.4" fill="none" stroke="#6a6a6a" stroke-width="1"/>
<path d="M212.58 1115.37 L213.75 1117.6 L214.59 1119.86 L215.1 1122.13 L215.28 1124.43 L215.13 1126.74 L214.65 1129.07 L213.85 1131.43 L212.71 1133.8 L211.24 1136.19 L209.45 1138.6" fill="none" stroke="#6a6a6a" stroke-width="1"/>
<path d="M213.76 1120.45 L213.89 1121.65 L213.96 1122.82 L213.98 1123.97 L213.95 1125.1 L213.86 1126.2 L213.71 1127.27 L213.51 1128.33 L213.26 1129.36 L212.95 1130.36 L212.58 1131.34" fill="none" stroke="#9a9a9a" stroke-width="0.7"/>
<line x1="240" y1="1075.2" x2="240" y2="1118" stroke="#4a4a4a" stroke-width="1"/>
<line x1="224.6" y1="1118" x2="261.4" y2="1118" stroke="#4a4a4a" stroke-width="1"/>
<line x1="261.4" y1="1118" x2="261.4" y2="1147.2" stroke="#4a4a4a" stroke-width="1"/>
<line x1="224.6" y1="1118" x2="252.6" y2="1147.2" stroke="#4a4a4a" stroke-width="1"/>
<rect x="234.6" y="1054.2" width="55.4" height="14.6" fill="none" stroke="#4a4a4a" stroke-width="1.6"/>
<rect x="236.4" y="1056" width="51.8" height="11" fill="none" stroke="#8a8a8a" stroke-width="0.7"/>
<rect x="239.2" y="1058.6" width="46.2" height="5.8" fill="none" stroke="#4a4a4a" stroke-width="1.5"/>
<rect x="234.6" y="1153.8" width="55.4" height="14.4" fill="none" stroke="#4a4a4a" stroke-width="1.6"/>
<rect x="236.4" y="1155.6" width="51.8" height="10.8" fill="none" stroke="#8a8a8a" stroke-width="0.7"/>
<rect x="239.2" y="1158.2" width="46.2" height="5.6" fill="none" stroke="#4a4a4a" stroke-width="1.5"/>
<rect x="198.2" y="1054" width="20" height="20" fill="none" stroke="#5a5a5a" stroke-width="1"/>
<circle cx="205" cy="1066.8" r="5.4" fill="none" stroke="#3c3c3c" stroke-width="1.2"/>
<circle cx="205" cy="1066.8" r="3.35" fill="none" stroke="#8a8a8a" stroke-width="0.6"/>
<line x1="205" y1="1066.8" x2="205" y2="1063.45" stroke="#555" stroke-width="0.8"/>
<line x1="205" y1="1066.8" x2="207.9" y2="1068.47" stroke="#555" stroke-width="0.8"/>
<line x1="205" y1="1066.8" x2="202.1" y2="1068.47" stroke="#555" stroke-width="0.8"/>
<line x1="207" y1="1055.2" x2="204.2" y2="1060.8" stroke="#3a3a3a" stroke-width="1.7"/>
<circle cx="212.6" cy="1059.6" r="2.1" fill="none" stroke="#555" stroke-width="0.9"/>
<circle cx="213.8" cy="1069.4" r="1.5" fill="none" stroke="#555" stroke-width="0.9"/>
<rect x="198.2" y="1148.8" width="20" height="20" fill="none" stroke="#5a5a5a" stroke-width="1"/>
<circle cx="205" cy="1156" r="5.4" fill="none" stroke="#3c3c3c" stroke-width="1.2"/>
<circle cx="205" cy="1156" r="3.35" fill="none" stroke="#8a8a8a" stroke-width="0.6"/>
<line x1="205" y1="1156" x2="205" y2="1159.35" stroke="#555" stroke-width="0.8"/>
<line x1="205" y1="1156" x2="207.9" y2="1154.33" stroke="#555" stroke-width="0.8"/>
<line x1="205" y1="1156" x2="202.1" y2="1154.33" stroke="#555" stroke-width="0.8"/>
<line x1="207" y1="1167.6" x2="204.2" y2="1162" stroke="#3a3a3a" stroke-width="1.7"/>
<circle cx="212.6" cy="1163.2" r="2.1" fill="none" stroke="#555" stroke-width="0.9"/>
<circle cx="213.8" cy="1153.4" r="1.5" fill="none" stroke="#555" stroke-width="0.9"/>
<line x1="336.1" y1="1093.4" x2="336.1" y2="1163.4" stroke="#444" stroke-width="1.7"/>
<line x1="337.8" y1="1097.9" x2="337.8" y2="1158.9" stroke="#777" stroke-width="0.8"/>
<path d="M484.4 628 L485.17 628.15 L485.81 628.59 L486.25 629.23 L486.4 630 L486.4 657.6 L486.25 658.37 L485.81 659.01 L485.17 659.45 L484.4 659.6 L466.2 659.6 L465.43 659.45 L464.79 659.01 L464.35 658.37 L464.2 657.6 L464.2 630 L464.35 629.23 L464.79 628.59 L465.43 628.15 L466.2 628 Z" fill="none" stroke="#333" stroke-width="1.3"/>
<rect x="466" y="629.8" width="18.6" height="28" fill="none" stroke="#6a6a6a" stroke-width="0.7"/>
<line x1="467.2" y1="632" x2="467.2" y2="655.6" stroke="#444" stroke-width="0.8"/>
<line x1="468.45" y1="632" x2="468.45" y2="655.6" stroke="#444" stroke-width="0.8"/>
<line x1="469.7" y1="632" x2="469.7" y2="655.6" stroke="#444" stroke-width="0.8"/>
<line x1="470.95" y1="632" x2="470.95" y2="655.6" stroke="#444" stroke-width="0.8"/>
<line x1="472.2" y1="632" x2="472.2" y2="655.6" stroke="#444" stroke-width="0.8"/>
<rect x="473.6" y="632.2" width="9.8" height="23.2" fill="none" stroke="#333" stroke-width="1.1"/>
<line x1="476.7" y1="643.8" x2="487.4" y2="643.8" stroke="#1c1c1c" stroke-width="1.7"/>
<line x1="483.2" y1="640.6" x2="483.2" y2="647" stroke="#1c1c1c" stroke-width="1.5"/>
<circle cx="476.7" cy="643.8" r="1.2" fill="#fff" stroke="#1c1c1c" stroke-width="0.8"/>
<rect x="486.4" y="636.4" width="3.2" height="14.8" fill="none" stroke="#444" stroke-width="0.8"/>
<line x1="486.4" y1="640" x2="489.6" y2="640" stroke="#444" stroke-width="0.7"/>
<line x1="486.4" y1="647.6" x2="489.6" y2="647.6" stroke="#444" stroke-width="0.7"/>
<path d="M485.6 666.2 L486.75 666.43 L487.72 667.08 L488.37 668.05 L488.6 669.2 L488.6 694.6 L488.37 695.75 L487.72 696.72 L486.75 697.37 L485.6 697.6 L459.4 697.6 L458.25 697.37 L457.28 696.72 L456.63 695.75 L456.4 694.6 L456.4 669.2 L456.63 668.05 L457.28 667.08 L458.25 666.43 L459.4 666.2 Z" fill="none" stroke="#2e2e2e" stroke-width="1.4"/>
<line x1="458.9" y1="667.8" x2="487.6" y2="667.8" stroke="#333" stroke-width="1.1"/>
<line x1="458.9" y1="696" x2="487.6" y2="696" stroke="#333" stroke-width="1.1"/>
<line x1="460" y1="672.2" x2="460" y2="691.6" stroke="#555" stroke-width="0.8"/>
<line x1="461.5" y1="672.2" x2="461.5" y2="691.6" stroke="#555" stroke-width="0.8"/>
<line x1="463" y1="672.2" x2="463" y2="691.6" stroke="#555" stroke-width="0.8"/>
<line x1="464.5" y1="672.2" x2="464.5" y2="691.6" stroke="#555" stroke-width="0.8"/>
<line x1="466.8" y1="669.2" x2="466.8" y2="694.6" stroke="#2e2e2e" stroke-width="1.4"/>
<line x1="468.4" y1="677.2" x2="468.4" y2="686.6" stroke="#2e2e2e" stroke-width="1.8"/>
<path d="M480.6 670.2 L481.21 670.32 L481.73 670.67 L482.08 671.19 L482.2 671.8 L482.2 692 L482.08 692.61 L481.73 693.13 L481.21 693.48 L480.6 693.6 L472.6 693.6 L471.99 693.48 L471.47 693.13 L471.12 692.61 L471 692 L471 671.8 L471.12 671.19 L471.47 670.67 L471.99 670.32 L472.6 670.2 Z" fill="none" stroke="#2e2e2e" stroke-width="1.2"/>
<rect x="473" y="672.6" width="7.2" height="18.6" fill="none" stroke="#6a6a6a" stroke-width="0.7"/>
<circle cx="476.8" cy="682.5" r="1.7" fill="none" stroke="#555" stroke-width="0.7"/>
<line x1="475.4" y1="675.6" x2="478.8" y2="678.6" stroke="#555" stroke-width="0.8"/>
<line x1="475" y1="688.2" x2="478.4" y2="685.6" stroke="#555" stroke-width="0.8"/>
<line x1="484.2" y1="670.2" x2="484.2" y2="693.6" stroke="#2e2e2e" stroke-width="1.2"/>
<line x1="486" y1="670.2" x2="486" y2="693.6" stroke="#6a6a6a" stroke-width="0.7"/>
<line x1="463.5" y1="707.9" x2="463.5" y2="848.6" stroke="#4a4a4a" stroke-width="1"/>
<line x1="463.5" y1="757.6" x2="489.76" y2="757.6" stroke="#4a4a4a" stroke-width="1"/>
<line x1="463.5" y1="806.2" x2="489.76" y2="806.2" stroke="#4a4a4a" stroke-width="1"/>
<line x1="463.5" y1="848.6" x2="489.76" y2="848.6" stroke="#4a4a4a" stroke-width="1"/>
<rect x="465" y="717.6" width="23.4" height="29.2" fill="none" stroke="#6a6a6a" stroke-width="0.8"/>
<circle cx="470.2" cy="724.2" r="3.9" fill="none" stroke="#333" stroke-width="1.1"/>
<circle cx="470.2" cy="724.2" r="2.2" fill="none" stroke="#333" stroke-width="1.3"/>
<circle cx="470.2" cy="724.2" r="0.7" fill="#333" stroke="#333" stroke-width="0.6"/>
<circle cx="483.4" cy="724.2" r="3.9" fill="none" stroke="#333" stroke-width="1.1"/>
<circle cx="483.4" cy="724.2" r="2.2" fill="none" stroke="#333" stroke-width="1.3"/>
<circle cx="483.4" cy="724.2" r="0.7" fill="#333" stroke="#333" stroke-width="0.6"/>
<circle cx="470.2" cy="735.6" r="3.9" fill="none" stroke="#333" stroke-width="1.1"/>
<circle cx="470.2" cy="735.6" r="2.2" fill="none" stroke="#333" stroke-width="1.3"/>
<circle cx="470.2" cy="735.6" r="0.7" fill="#333" stroke="#333" stroke-width="0.6"/>
<circle cx="483.4" cy="735.6" r="3.9" fill="none" stroke="#333" stroke-width="1.1"/>
<circle cx="483.4" cy="735.6" r="2.2" fill="none" stroke="#333" stroke-width="1.3"/>
<circle cx="483.4" cy="735.6" r="0.7" fill="#333" stroke="#333" stroke-width="0.6"/>
<line x1="477.6" y1="743.2" x2="477.6" y2="745.6" stroke="#333" stroke-width="0.8"/>
<line x1="479.5" y1="743.2" x2="479.5" y2="745.6" stroke="#333" stroke-width="0.8"/>
<line x1="481.4" y1="743.2" x2="481.4" y2="745.6" stroke="#333" stroke-width="0.8"/>
<line x1="483.3" y1="743.2" x2="483.3" y2="745.6" stroke="#333" stroke-width="0.8"/>
<line x1="485.2" y1="743.2" x2="485.2" y2="745.6" stroke="#333" stroke-width="0.8"/>
<line x1="476.8" y1="745.8" x2="486.6" y2="745.8" stroke="#333" stroke-width="0.7"/>
<path d="M482.4 775 L483.32 775.18 L484.1 775.7 L484.62 776.48 L484.8 777.4 L484.8 793.4 L484.62 794.32 L484.1 795.1 L483.32 795.62 L482.4 795.8 L468.4 795.8 L467.48 795.62 L466.7 795.1 L466.18 794.32 L466 793.4 L466 777.4 L466.18 776.48 L466.7 775.7 L467.48 775.18 L468.4 775 Z" fill="none" stroke="#333" stroke-width="1.2"/>
<path d="M481.4 776.6 L482.09 776.74 L482.67 777.13 L483.06 777.71 L483.2 778.4 L483.2 792.4 L483.06 793.09 L482.67 793.67 L482.09 794.06 L481.4 794.2 L469.4 794.2 L468.71 794.06 L468.13 793.67 L467.74 793.09 L467.6 792.4 L467.6 778.4 L467.74 777.71 L468.13 777.13 L468.71 776.74 L469.4 776.6 Z" fill="none" stroke="#6a6a6a" stroke-width="0.7"/>
<circle cx="474.8" cy="785.2" r="1.5" fill="none" stroke="#333" stroke-width="0.8"/>
<line x1="480" y1="785.2" x2="488" y2="785.2" stroke="#222" stroke-width="1.3"/>
<line x1="481.4" y1="783" x2="481.4" y2="787.6" stroke="#222" stroke-width="1"/>
<rect x="452.2" y="848.8" width="36.6" height="32.2" fill="none" stroke="#333" stroke-width="1.2"/>
<line x1="452.2" y1="851.4" x2="452.2" y2="879.4" stroke="#333" stroke-width="2"/>
<line x1="487" y1="850.5" x2="487" y2="880" stroke="#333" stroke-width="1.6"/>
<line x1="463.5" y1="849" x2="463.5" y2="881" stroke="#333" stroke-width="1" stroke-dasharray="5 3"/>
<circle cx="452" cy="880.8" r="0.9" fill="#333" stroke="#333" stroke-width="0.6"/>
<rect x="420.6" y="918.8" width="69.16" height="42.6" fill="url(#hatch)" stroke="#555" stroke-width="1"/>
<rect x="426.4" y="902.4" width="22" height="2.6" fill="#b5b5b5" stroke="#666" stroke-width="0.8"/>
<path d="M446.8 906.8 L447.41 906.92 L447.93 907.27 L448.28 907.79 L448.4 908.4 L448.4 926 L448.28 926.61 L447.93 927.13 L447.41 927.48 L446.8 927.6 L428 927.6 L427.39 927.48 L426.87 927.13 L426.52 926.61 L426.4 926 L426.4 908.4 L426.52 907.79 L426.87 907.27 L427.39 906.92 L428 906.8 Z" fill="none" stroke="#444" stroke-width="1.1"/>
<rect x="429.2" y="909.4" width="16.4" height="15.6" fill="none" stroke="#444" stroke-width="1.2"/>
<rect x="430.6" y="910.8" width="13.6" height="12.8" fill="none" stroke="#8a8a8a" stroke-width="0.6"/>
<rect x="461.4" y="902.4" width="22.2" height="2.6" fill="#b5b5b5" stroke="#666" stroke-width="0.8"/>
<path d="M482 906.8 L482.61 906.92 L483.13 907.27 L483.48 907.79 L483.6 908.4 L483.6 926 L483.48 926.61 L483.13 927.13 L482.61 927.48 L482 927.6 L463 927.6 L462.39 927.48 L461.87 927.13 L461.52 926.61 L461.4 926 L461.4 908.4 L461.52 907.79 L461.87 907.27 L462.39 906.92 L463 906.8 Z" fill="none" stroke="#444" stroke-width="1.1"/>
<rect x="464.2" y="909.4" width="16.6" height="15.6" fill="none" stroke="#444" stroke-width="1.2"/>
<rect x="465.6" y="910.8" width="13.8" height="12.8" fill="none" stroke="#8a8a8a" stroke-width="0.6"/>
<rect x="426.4" y="975" width="22" height="2.6" fill="#b5b5b5" stroke="#666" stroke-width="0.8"/>
<path d="M446.8 952.4 L447.41 952.52 L447.93 952.87 L448.28 953.39 L448.4 954 L448.4 971.6 L448.28 972.21 L447.93 972.73 L447.41 973.08 L446.8 973.2 L428 973.2 L427.39 973.08 L426.87 972.73 L426.52 972.21 L426.4 971.6 L426.4 954 L426.52 953.39 L426.87 952.87 L427.39 952.52 L428 952.4 Z" fill="none" stroke="#444" stroke-width="1.1"/>
<rect x="429.2" y="955" width="16.4" height="15.6" fill="none" stroke="#444" stroke-width="1.2"/>
<rect x="430.6" y="956.4" width="13.6" height="12.8" fill="none" stroke="#8a8a8a" stroke-width="0.6"/>
<rect x="461.4" y="975" width="22.2" height="2.6" fill="#b5b5b5" stroke="#666" stroke-width="0.8"/>
<path d="M482 952.4 L482.61 952.52 L483.13 952.87 L483.48 953.39 L483.6 954 L483.6 971.6 L483.48 972.21 L483.13 972.73 L482.61 973.08 L482 973.2 L463 973.2 L462.39 973.08 L461.87 972.73 L461.52 972.21 L461.4 971.6 L461.4 954 L461.52 953.39 L461.87 952.87 L462.39 952.52 L463 952.4 Z" fill="none" stroke="#444" stroke-width="1.1"/>
<rect x="464.2" y="955" width="16.6" height="15.6" fill="none" stroke="#444" stroke-width="1.2"/>
<rect x="465.6" y="956.4" width="13.8" height="12.8" fill="none" stroke="#8a8a8a" stroke-width="0.6"/>
<rect x="440.8" y="1016.8" width="36.6" height="11.6" fill="#fff" stroke="#4a4a4a" stroke-width="1"/>
<rect x="440.8" y="1090.2" width="36.6" height="9.8" fill="#fff" stroke="#4a4a4a" stroke-width="1"/>
<line x1="443.4" y1="1028.4" x2="443.4" y2="1090.2" stroke="#4a4a4a" stroke-width="1"/>
<line x1="446" y1="1028.4" x2="446" y2="1090.2" stroke="#6a6a6a" stroke-width="0.7"/>
<line x1="472.4" y1="1028.4" x2="472.4" y2="1090.2" stroke="#4a4a4a" stroke-width="1"/>
<line x1="477.4" y1="1019.4" x2="489.76" y2="1019.4" stroke="#4a4a4a" stroke-width="1"/>
<line x1="477.4" y1="1097.4" x2="489.76" y2="1097.4" stroke="#4a4a4a" stroke-width="1"/>
<line x1="481.4" y1="1019.4" x2="481.4" y2="1097.4" stroke="#4a4a4a" stroke-width="1"/>
<line x1="484" y1="1019.4" x2="484" y2="1097.4" stroke="#6a6a6a" stroke-width="0.8"/>
<line x1="443.4" y1="1040.2" x2="489.76" y2="1040.2" stroke="#4a4a4a" stroke-width="1"/>
<line x1="443.4" y1="1057" x2="489.76" y2="1057" stroke="#4a4a4a" stroke-width="1"/>
<line x1="436" y1="1040.2" x2="443.4" y2="1040.2" stroke="#4a4a4a" stroke-width="0.8"/>
<rect x="346.8" y="1003.2" width="10.6" height="55.2" fill="none" stroke="#4a4a4a" stroke-width="1"/>
<line x1="353.6" y1="1008" x2="353.6" y2="1054" stroke="#333" stroke-width="1.8"/>
<line x1="351.2" y1="1024" x2="351.2" y2="1040" stroke="#555" stroke-width="2.2"/>
<line x1="355.6" y1="1012" x2="355.6" y2="1050" stroke="#888" stroke-width="0.8"/>
<circle cx="412.2" cy="1006.8" r="6.6" fill="#fff" stroke="#111" stroke-width="1"/>
<path d="M412.2 1006.8 L405.6 1006.8 L405.73 1005.51 L406.1 1004.27 L406.71 1003.13 L407.53 1002.13 L408.53 1001.31 L409.67 1000.7 L410.91 1000.33 L412.2 1000.2 Z" fill="#111" stroke="none" stroke-width="0"/>
<path d="M412.2 1006.8 L418.8 1006.8 L418.67 1008.09 L418.3 1009.33 L417.69 1010.47 L416.87 1011.47 L415.87 1012.29 L414.73 1012.9 L413.49 1013.27 L412.2 1013.4 Z" fill="#111" stroke="none" stroke-width="0"/>
<line x1="403.6" y1="1006.8" x2="420.8" y2="1006.8" stroke="#111" stroke-width="0.7"/>
<line x1="412.2" y1="998.2" x2="412.2" y2="1015.4" stroke="#111" stroke-width="0.7"/>
<g fill="none" stroke="#6f6f6f" stroke-width="0.9" stroke-linecap="round" stroke-linejoin="round">
<path d="M 368.11 1194.06 C 369.36 1179.82 380.93 1171.28 414.73 1167.72 C 448.54 1171.28 460.28 1179.82 461.53 1194.06 L 462.42 1359.54 C 462.06 1370.21 457.44 1376.44 446.76 1377.69 C 432.53 1380.53 396.94 1380.53 382.7 1377.69 C 372.03 1376.44 367.4 1370.21 367.05 1359.54 Z"/>
<path stroke="#8c8c8c" d="M 370.25 1195.84 C 372.03 1182.49 382.7 1174.13 414.73 1170.57 C 446.76 1174.13 457.44 1182.49 459.22 1195.84 L 459.93 1358.65 C 459.57 1368.43 455.66 1373.77 446.05 1375.2 C 432.53 1377.69 396.94 1377.69 383.42 1375.2 C 373.81 1373.77 369.89 1368.43 369.54 1358.65 Z"/>
<path d="M 375.59 1185.16 C 386.26 1176.62 398.72 1173.77 414.73 1173.06 C 430.75 1173.77 443.2 1176.62 453.88 1185.16"/>
<path d="M 412.06 1176.62 L 408.68 1213.63 M 417.4 1176.62 L 420.78 1213.63 M 412.06 1176.62 L 417.4 1176.62"/>
<path stroke-width="1.4" d="M 413.31 1176.62 L 413.31 1179.82 M 416.16 1176.62 L 416.16 1179.82"/>
<path d="M 397.83 1181.6 L 388.4 1216.3 M 431.64 1181.6 L 441.07 1216.3"/>
<path d="M 384.48 1183.38 C 380.04 1201.17 377.37 1215.41 375.59 1231.78 M 444.98 1183.38 C 449.43 1201.17 452.1 1215.41 453.88 1231.78"/>
<path d="M 389.11 1215.77 L 408.33 1214.7 L 407.62 1219.86 L 390.18 1220.75 Z"/>
<path stroke="#6f6f6f" d="M 391.25 1215.77 L 391.25 1220.04"/>
<path stroke="#6f6f6f" d="M 393.38 1215.77 L 393.38 1220.04"/>
<path stroke="#6f6f6f" d="M 395.52 1215.77 L 395.52 1220.04"/>
<path stroke="#6f6f6f" d="M 397.65 1215.77 L 397.65 1220.04"/>
<path stroke="#6f6f6f" d="M 399.79 1215.77 L 399.79 1220.04"/>
<path stroke="#6f6f6f" d="M 401.92 1215.77 L 401.92 1220.04"/>
<path stroke="#6f6f6f" d="M 404.06 1215.77 L 404.06 1220.04"/>
<path stroke="#6f6f6f" d="M 406.19 1215.77 L 406.19 1220.04"/>
<path d="M 421.14 1215.77 L 440.36 1214.7 L 439.64 1219.86 L 422.21 1220.75 Z"/>
<path stroke="#6f6f6f" d="M 423.27 1215.77 L 423.27 1220.04"/>
<path stroke="#6f6f6f" d="M 425.41 1215.77 L 425.41 1220.04"/>
<path stroke="#6f6f6f" d="M 427.54 1215.77 L 427.54 1220.04"/>
<path stroke="#6f6f6f" d="M 429.68 1215.77 L 429.68 1220.04"/>
<path stroke="#6f6f6f" d="M 431.81 1215.77 L 431.81 1220.04"/>
<path stroke="#6f6f6f" d="M 433.95 1215.77 L 433.95 1220.04"/>
<path stroke="#6f6f6f" d="M 436.09 1215.77 L 436.09 1220.04"/>
<path stroke="#6f6f6f" d="M 438.22 1215.77 L 438.22 1220.04"/>
<path d="M 375.59 1231.78 C 393.38 1222.53 436.09 1222.53 453.88 1231.78"/>
<path stroke="#8c8c8c" d="M 377.72 1234.98 C 395.16 1226.09 434.31 1226.09 451.74 1234.98"/>
<path d="M 383.24 1263.45 C 398.72 1259.54 430.75 1259.54 446.23 1263.45"/>
<path d="M 375.59 1231.78 L 383.24 1263.45 M 453.88 1231.78 L 446.23 1263.45"/>
<path stroke="#8c8c8c" d="M 373.1 1233.2 L 380.57 1265.23 M 456.37 1233.2 L 448.9 1265.23"/>
<path d="M 383.24 1263.45 C 385.91 1290.14 386.62 1325.73 384.48 1347.44 M 446.23 1263.45 C 443.56 1290.14 442.85 1325.73 444.98 1347.44"/>
<path d="M 371.67 1236.76 C 370.6 1272.35 370.6 1325.73 375.59 1357.76 M 457.79 1236.76 C 458.86 1272.35 458.86 1325.73 453.88 1357.76"/>
<path stroke="#8c8c8c" d="M 380.57 1265.23 C 388.93 1290.14 390.71 1322.17 386.62 1343.52 M 448.9 1265.23 C 440.53 1290.14 438.75 1322.17 442.85 1343.52"/>
<path stroke="#8c8c8c" d="M 368.47 1281.25 L 371.67 1281.25 M 461 1281.25 L 457.79 1281.25 M 368.11 1236.76 L 372.03 1243.88 M 461.35 1236.76 L 457.44 1243.88"/>
<path d="M 384.48 1347.44 L 444.98 1347.44 M 384.48 1347.44 L 383.42 1358.11 C 398.72 1360.6 430.75 1360.6 446.05 1358.11 L 444.98 1347.44"/>
<path d="M 383.42 1358.11 L 388.04 1371.99 C 402.28 1374.13 427.19 1374.13 441.42 1371.99 L 446.05 1358.11"/>
<path stroke="#8c8c8c" d="M 375.59 1357.76 L 379.5 1372.88 M 453.88 1357.76 L 449.96 1372.88"/>
<path d="M 458.86 1245.3 L 468.47 1248.86 L 468.83 1253.13 L 462.78 1252.06 Z"/>
</g>
<line x1="662.67" y1="595.55" x2="500.84" y2="595.55" stroke="#4a4a4a" stroke-width="1"/>
<line x1="662.67" y1="595.55" x2="662.67" y2="635.68" stroke="#4a4a4a" stroke-width="1"/>
<line x1="764.33" y1="635.68" x2="662.67" y2="635.68" stroke="#4a4a4a" stroke-width="1"/>
<line x1="764.33" y1="635.68" x2="764.33" y2="825.6" stroke="#4a4a4a" stroke-width="1"/>
<line x1="804.45" y1="825.6" x2="705.48" y2="825.6" stroke="#4a4a4a" stroke-width="1"/>
<rect x="796.25" y="785.48" width="8.2" height="40.12" fill="none" stroke="#4a4a4a" stroke-width="1"/>
<line x1="756.3" y1="643.7" x2="622.55" y2="643.7" stroke="#4a4a4a" stroke-width="1"/>
<line x1="756.3" y1="643.7" x2="756.3" y2="825.6" stroke="#4a4a4a" stroke-width="1"/>
<line x1="622.55" y1="595.55" x2="622.55" y2="873.75" stroke="#4a4a4a" stroke-width="1"/>
<line x1="614.53" y1="595.55" x2="614.53" y2="699.88" stroke="#4a4a4a" stroke-width="1"/>
<line x1="614.53" y1="707.9" x2="614.53" y2="881.78" stroke="#4a4a4a" stroke-width="1"/>
<line x1="656.88" y1="873.75" x2="622.55" y2="873.75" stroke="#4a4a4a" stroke-width="1"/>
<line x1="656.88" y1="881.78" x2="614.53" y2="881.78" stroke="#4a4a4a" stroke-width="1"/>
<line x1="656.88" y1="873.75" x2="656.88" y2="881.78" stroke="#4a4a4a" stroke-width="1"/>
<rect x="699.67" y="873.75" width="5.8" height="8.02" fill="none" stroke="#4a4a4a" stroke-width="1"/>
<rect x="696.88" y="832.12" width="4" height="43.13" fill="none" stroke="#4a4a4a" stroke-width="1"/>
<line x1="698.78" y1="835.62" x2="698.78" y2="873.75" stroke="#888" stroke-width="0.7"/>
<circle cx="700.28" cy="837.02" r="1.5" fill="#555" stroke="#4a4a4a" stroke-width="0.8"/>
<path d="M699.67 833.95 L696.88 834.04 L694.09 834.32 L691.33 834.77 L688.6 835.41 L685.92 836.22 L683.3 837.21 L680.75 838.36 L678.27 839.68 L675.9 841.16 L673.62 842.79 L671.45 844.57 L669.41 846.49 L667.5 848.53 L665.72 850.7 L664.09 852.97 L662.61 855.35 L661.29 857.82 L660.13 860.37 L659.15 862.99 L658.33 865.67 L657.7 868.4 L657.24 871.16 L656.97 873.95 L656.88 876.75" fill="none" stroke="#4a4a4a" stroke-width="1" stroke-dasharray="5 3"/>
<rect x="609.73" y="699.88" width="4.8" height="8.02" fill="none" stroke="#4a4a4a" stroke-width="1"/>
<line x1="566.92" y1="699.88" x2="500.84" y2="699.88" stroke="#4a4a4a" stroke-width="1"/>
<line x1="566.92" y1="707.9" x2="500.84" y2="707.9" stroke="#4a4a4a" stroke-width="1"/>
<line x1="566.92" y1="699.88" x2="566.92" y2="707.9" stroke="#4a4a4a" stroke-width="1"/>
<rect x="605.33" y="657.08" width="4.4" height="42.8" fill="none" stroke="#4a4a4a" stroke-width="1"/>
<line x1="606.83" y1="660.08" x2="606.83" y2="699.88" stroke="#4a4a4a" stroke-width="0.8"/>
<circle cx="607.53" cy="658.58" r="1.6" fill="none" stroke="#4a4a4a" stroke-width="0.8"/>
<path d="M600.83 658.01 L598.47 658.58 L596.14 659.29 L593.87 660.12 L591.64 661.09 L589.47 662.17 L587.36 663.38 L585.33 664.71 L583.37 666.15 L581.5 667.7 L579.73 669.35 L578.04 671.1 L576.46 672.94 L574.99 674.87 L573.63 676.88 L572.38 678.96 L571.26 681.11 L570.25 683.32 L569.38 685.59 L568.63 687.9 L568.02 690.25 L567.54 692.63 L567.2 695.03 L566.99 697.45 L566.92 699.88" fill="none" stroke="#4a4a4a" stroke-width="1" stroke-dasharray="5 3"/>
<line x1="793.75" y1="833.62" x2="713.5" y2="833.62" stroke="#4a4a4a" stroke-width="1"/>
<line x1="793.75" y1="833.62" x2="793.75" y2="972.73" stroke="#4a4a4a" stroke-width="1"/>
<line x1="793.75" y1="972.73" x2="705.48" y2="972.73" stroke="#4a4a4a" stroke-width="1"/>
<line x1="713.5" y1="833.62" x2="713.5" y2="889.28" stroke="#4a4a4a" stroke-width="1"/>
<line x1="705.48" y1="825.6" x2="705.48" y2="889.28" stroke="#4a4a4a" stroke-width="1"/>
<rect x="705.48" y="889.28" width="8.02" height="3" fill="none" stroke="#4a4a4a" stroke-width="1"/>
<rect x="705.48" y="935.08" width="8.02" height="6" fill="none" stroke="#4a4a4a" stroke-width="1"/>
<line x1="713.5" y1="941.08" x2="713.5" y2="972.73" stroke="#4a4a4a" stroke-width="1"/>
<line x1="705.48" y1="941.08" x2="705.48" y2="940.63" stroke="#4a4a4a" stroke-width="1"/>
<line x1="705.48" y1="948.65" x2="705.48" y2="972.73" stroke="#4a4a4a" stroke-width="1"/>
<rect x="713" y="932.08" width="43.3" height="3" fill="none" stroke="#4a4a4a" stroke-width="1"/>
<line x1="753.3" y1="933.78" x2="713.5" y2="933.78" stroke="#4a4a4a" stroke-width="0.8"/>
<circle cx="754.8" cy="935.88" r="1.6" fill="none" stroke="#4a4a4a" stroke-width="0.8"/>
<path d="M756.3 935.08 L756.21 932.28 L755.93 929.49 L755.48 926.73 L754.84 924 L754.03 921.32 L753.04 918.7 L751.89 916.15 L750.57 913.68 L749.09 911.3 L747.46 909.02 L745.68 906.85 L743.76 904.81 L741.72 902.9 L739.55 901.12 L737.28 899.49 L734.9 898.01 L732.43 896.69 L729.88 895.53 L727.26 894.55 L724.58 893.73 L721.85 893.1 L719.09 892.64 L716.3 892.37 L713.5 892.28" fill="none" stroke="#4a4a4a" stroke-width="1" stroke-dasharray="5 3"/>
<rect x="764.33" y="825.6" width="29.42" height="8.02" fill="none" stroke="#4a4a4a" stroke-width="1"/>
<line x1="793.75" y1="828.3" x2="764.33" y2="828.3" stroke="#4a4a4a" stroke-width="0.8"/>
<line x1="793.75" y1="831" x2="764.33" y2="831" stroke="#4a4a4a" stroke-width="0.8"/>
<rect x="700.28" y="940.63" width="5.2" height="8.02" fill="none" stroke="#4a4a4a" stroke-width="1"/>
<line x1="656.98" y1="940.63" x2="643.95" y2="940.63" stroke="#4a4a4a" stroke-width="1"/>
<line x1="656.98" y1="940.63" x2="656.98" y2="948.65" stroke="#4a4a4a" stroke-width="1"/>
<line x1="656.98" y1="948.65" x2="651.98" y2="948.65" stroke="#4a4a4a" stroke-width="1"/>
<line x1="651.98" y1="948.65" x2="651.98" y2="1184.05" stroke="#4a4a4a" stroke-width="1"/>
<line x1="643.95" y1="940.63" x2="643.95" y2="1127.88" stroke="#4a4a4a" stroke-width="1"/>
<line x1="643.95" y1="1135.9" x2="643.95" y2="1192.08" stroke="#4a4a4a" stroke-width="1"/>
<rect x="655.28" y="943.65" width="5.7" height="47.8" fill="none" stroke="#4a4a4a" stroke-width="1"/>
<line x1="658.48" y1="946.65" x2="658.48" y2="988.45" stroke="#4a4a4a" stroke-width="0.8"/>
<circle cx="656.28" cy="989.45" r="1.6" fill="none" stroke="#4a4a4a" stroke-width="0.8"/>
<path d="M659.48 991.45 L662.27 991.36 L665.06 991.08 L667.82 990.63 L670.55 989.99 L673.23 989.18 L675.85 988.19 L678.4 987.04 L680.88 985.72 L683.25 984.24 L685.53 982.61 L687.7 980.83 L689.74 978.91 L691.65 976.87 L693.43 974.7 L695.06 972.43 L696.54 970.05 L697.86 967.58 L699.02 965.03 L700 962.41 L700.82 959.73 L701.45 957 L701.91 954.24 L702.18 951.45 L702.28 948.65" fill="none" stroke="#4a4a4a" stroke-width="1" stroke-dasharray="5 3"/>
<line x1="793.75" y1="980.75" x2="711" y2="980.75" stroke="#4a4a4a" stroke-width="1"/>
<line x1="793.75" y1="980.75" x2="793.75" y2="1184.05" stroke="#4a4a4a" stroke-width="1"/>
<line x1="793.75" y1="1184.05" x2="651.98" y2="1184.05" stroke="#4a4a4a" stroke-width="1"/>
<line x1="804.45" y1="1192.08" x2="643.95" y2="1192.08" stroke="#4a4a4a" stroke-width="1"/>
<rect x="680.83" y="1184.05" width="83.8" height="9.23" fill="none" stroke="#4a4a4a" stroke-width="1"/>
<rect x="682.33" y="1186.25" width="80.8" height="4.2" fill="#bdbdbd" stroke="#4a4a4a" stroke-width="0.8"/>
<rect x="668.08" y="635.68" width="84.02" height="8.02" fill="none" stroke="#4a4a4a" stroke-width="1"/>
<rect x="669.58" y="637.88" width="81.02" height="4" fill="#bdbdbd" stroke="#4a4a4a" stroke-width="0.8"/>
<line x1="643.95" y1="1135.9" x2="500.84" y2="1135.9" stroke="#4a4a4a" stroke-width="1"/>
<rect x="640.35" y="1127.88" width="3.6" height="8.03" fill="none" stroke="#4a4a4a" stroke-width="1"/>
<rect x="583.7" y="1127.88" width="6.5" height="8.03" fill="none" stroke="#4a4a4a" stroke-width="1"/>
<line x1="504.84" y1="1127.88" x2="500.84" y2="1127.88" stroke="#4a4a4a" stroke-width="1"/>
<line x1="504.84" y1="1127.88" x2="504.84" y2="1135.9" stroke="#4a4a4a" stroke-width="1"/>
<rect x="504.84" y="1127.88" width="78.86" height="8.03" fill="none" stroke="#4a4a4a" stroke-width="1"/>
<rect x="506.34" y="1129.88" width="75.86" height="3.6" fill="#bdbdbd" stroke="#4a4a4a" stroke-width="0.8"/>
<rect x="636.15" y="1083.12" width="5.6" height="48.15" fill="none" stroke="#4a4a4a" stroke-width="1"/>
<line x1="638.75" y1="1086.12" x2="638.75" y2="1128.28" stroke="#4a4a4a" stroke-width="0.8"/>
<circle cx="639.35" cy="1085.53" r="1.7" fill="#555" stroke="#4a4a4a" stroke-width="0.8"/>
<path d="M633.32 1083.39 L630.58 1083.76 L627.86 1084.28 L625.18 1084.96 L622.54 1085.79 L619.96 1086.78 L617.43 1087.91 L614.98 1089.18 L612.6 1090.59 L610.3 1092.14 L608.1 1093.81 L606 1095.61 L604.01 1097.53 L602.13 1099.55 L600.36 1101.69 L598.73 1103.92 L597.22 1106.24 L595.85 1108.64 L594.62 1111.12 L593.54 1113.66 L592.6 1116.26 L591.81 1118.91 L591.18 1121.61 L590.7 1124.33 L590.38 1127.08" fill="none" stroke="#4a4a4a" stroke-width="1" stroke-dasharray="3 2.4"/>
<line x1="500.84" y1="595.55" x2="500.84" y2="1135.9" stroke="#4a4a4a" stroke-width="1.2"/>
<line x1="499.94" y1="553.55" x2="499.94" y2="595.55" stroke="#4a4a4a" stroke-width="1"/>
<line x1="499.94" y1="1135.9" x2="499.94" y2="1167.9" stroke="#4a4a4a" stroke-width="1"/>
<line x1="643.95" y1="1192.08" x2="643.95" y2="1404.5" stroke="#4a4a4a" stroke-width="1" stroke-dasharray="6 3"/>
<line x1="643.95" y1="1404.5" x2="495.3" y2="1404.5" stroke="#4a4a4a" stroke-width="1" stroke-dasharray="6 3"/>
<path d="M653.4 1618.9 L573.8 1415.6 L495.3 1618.9" fill="none" stroke="#555" stroke-width="1"/>
<line x1="573.8" y1="1415.6" x2="573.8" y2="1618.9" stroke="#555" stroke-width="1"/>
<rect x="623.2" y="604.2" width="31.2" height="31" fill="none" stroke="#4a4a4a" stroke-width="1"/>
<rect x="624.8" y="605.8" width="28" height="27.8" fill="none" stroke="#4a4a4a" stroke-width="0.8"/>
<path d="M643.2 609.2 L649.2 609.2 L649.2 615.2" fill="none" stroke="#4a4a4a" stroke-width="1"/>
<path d="M634.4 609.2 L628.4 609.2 L628.4 615.2" fill="none" stroke="#4a4a4a" stroke-width="1"/>
<path d="M643.2 630.2 L649.2 630.2 L649.2 624.2" fill="none" stroke="#4a4a4a" stroke-width="1"/>
<path d="M634.4 630.2 L628.4 630.2 L628.4 624.2" fill="none" stroke="#4a4a4a" stroke-width="1"/>
<rect x="623" y="673.2" width="103" height="72.4" fill="none" stroke="#606060" stroke-width="1.6"/>
<line x1="625.6" y1="673.2" x2="625.6" y2="745.6" stroke="#777" stroke-width="0.8"/>
<line x1="650.4" y1="702" x2="650.4" y2="745.6" stroke="#4a4a4a" stroke-width="1"/>
<path d="M644.85 680.4 L645.56 682.82 L646.12 685.24 L646.53 687.66 L646.79 690.08 L646.91 692.5 L646.87 694.92 L646.69 697.34 L646.35 699.76 L645.87 702.18 L645.24 704.6 L638.97 704.6" fill="none" stroke="#7a7a7a" stroke-width="0.9"/>
<path d="M644.85 680.4 L630.74 680.4 L629.56 681.37 L628.92 683.6 L628.43 685.83 L628.08 688.07 L627.87 690.31 L627.8 692.56 L627.87 694.81 L628.08 697.07 L628.43 699.33 L628.92 701.6 L629.56 703.87 L635.44 705.08" fill="none" stroke="#7a7a7a" stroke-width="0.9"/>
<path d="M638.97 680.88 L639.94 682.03 L640.83 683.25 L641.64 684.53 L642.35 685.88 L642.99 687.3 L643.53 688.78 L643.99 690.34 L644.36 691.96 L644.65 693.65 L644.85 695.4" fill="none" stroke="#6a6a6a" stroke-width="1"/>
<path d="M638.18 681.37 L639.35 683.6 L640.19 685.86 L640.7 688.13 L640.88 690.43 L640.73 692.74 L640.25 695.07 L639.45 697.43 L638.31 699.8 L636.84 702.19 L635.05 704.6" fill="none" stroke="#6a6a6a" stroke-width="1"/>
<path d="M639.36 686.45 L639.49 687.65 L639.56 688.82 L639.58 689.97 L639.55 691.1 L639.46 692.2 L639.31 693.27 L639.11 694.33 L638.86 695.36 L638.55 696.36 L638.18 697.34" fill="none" stroke="#9a9a9a" stroke-width="0.7"/>
<path d="M644.85 711.6 L645.56 714.02 L646.12 716.44 L646.53 718.86 L646.79 721.28 L646.91 723.7 L646.87 726.12 L646.69 728.54 L646.35 730.96 L645.87 733.38 L645.24 735.8 L638.97 735.8" fill="none" stroke="#7a7a7a" stroke-width="0.9"/>
<path d="M644.85 711.6 L630.74 711.6 L629.56 712.57 L628.92 714.8 L628.43 717.03 L628.08 719.27 L627.87 721.51 L627.8 723.76 L627.87 726.01 L628.08 728.27 L628.43 730.53 L628.92 732.8 L629.56 735.07 L635.44 736.28" fill="none" stroke="#7a7a7a" stroke-width="0.9"/>
<path d="M638.97 712.08 L639.94 713.23 L640.83 714.45 L641.64 715.73 L642.35 717.08 L642.99 718.5 L643.53 719.98 L643.99 721.54 L644.36 723.16 L644.65 724.85 L644.85 726.6" fill="none" stroke="#6a6a6a" stroke-width="1"/>
<path d="M638.18 712.57 L639.35 714.8 L640.19 717.06 L640.7 719.33 L640.88 721.63 L640.73 723.94 L640.25 726.27 L639.45 728.63 L638.31 731 L636.84 733.39 L635.05 735.8" fill="none" stroke="#6a6a6a" stroke-width="1"/>
<path d="M639.36 717.65 L639.49 718.85 L639.56 720.02 L639.58 721.17 L639.55 722.3 L639.46 723.4 L639.31 724.47 L639.11 725.53 L638.86 726.56 L638.55 727.56 L638.18 728.54" fill="none" stroke="#9a9a9a" stroke-width="0.7"/>
<line x1="687" y1="673.2" x2="687" y2="702" stroke="#4a4a4a" stroke-width="1"/>
<line x1="687" y1="702" x2="650.4" y2="702" stroke="#4a4a4a" stroke-width="1"/>
<line x1="678.1" y1="673.2" x2="650.4" y2="702" stroke="#4a4a4a" stroke-width="1"/>
<line x1="666.8" y1="702" x2="666.8" y2="745.6" stroke="#4a4a4a" stroke-width="1"/>
<rect x="660.6" y="652" width="55.4" height="14.2" fill="none" stroke="#4a4a4a" stroke-width="1.6"/>
<rect x="662.4" y="653.8" width="51.8" height="10.6" fill="none" stroke="#8a8a8a" stroke-width="0.7"/>
<rect x="665.2" y="656.4" width="46.2" height="5.4" fill="none" stroke="#4a4a4a" stroke-width="1.5"/>
<rect x="660.6" y="752" width="55.4" height="14.2" fill="none" stroke="#4a4a4a" stroke-width="1.6"/>
<rect x="662.4" y="753.8" width="51.8" height="10.6" fill="none" stroke="#8a8a8a" stroke-width="0.7"/>
<rect x="665.2" y="756.4" width="46.2" height="5.4" fill="none" stroke="#4a4a4a" stroke-width="1.5"/>
<rect x="623" y="651.4" width="21.2" height="20" fill="none" stroke="#5a5a5a" stroke-width="1"/>
<circle cx="630.21" cy="664.2" r="5.72" fill="none" stroke="#3c3c3c" stroke-width="1.2"/>
<circle cx="630.21" cy="664.2" r="3.55" fill="none" stroke="#8a8a8a" stroke-width="0.6"/>
<line x1="630.21" y1="664.2" x2="630.21" y2="660.65" stroke="#555" stroke-width="0.8"/>
<line x1="630.21" y1="664.2" x2="633.28" y2="665.97" stroke="#555" stroke-width="0.8"/>
<line x1="630.21" y1="664.2" x2="627.13" y2="665.97" stroke="#555" stroke-width="0.8"/>
<line x1="632.33" y1="652.6" x2="629.36" y2="658.2" stroke="#3a3a3a" stroke-width="1.7"/>
<circle cx="638.26" cy="657" r="2.23" fill="none" stroke="#555" stroke-width="0.9"/>
<circle cx="639.54" cy="666.8" r="1.59" fill="none" stroke="#555" stroke-width="0.9"/>
<rect x="623" y="746.8" width="21.2" height="20.4" fill="none" stroke="#5a5a5a" stroke-width="1"/>
<circle cx="630.21" cy="754.14" r="5.72" fill="none" stroke="#3c3c3c" stroke-width="1.2"/>
<circle cx="630.21" cy="754.14" r="3.55" fill="none" stroke="#8a8a8a" stroke-width="0.6"/>
<line x1="630.21" y1="754.14" x2="630.21" y2="757.69" stroke="#555" stroke-width="0.8"/>
<line x1="630.21" y1="754.14" x2="633.28" y2="752.37" stroke="#555" stroke-width="0.8"/>
<line x1="630.21" y1="754.14" x2="627.13" y2="752.37" stroke="#555" stroke-width="0.8"/>
<line x1="632.33" y1="765.98" x2="629.36" y2="760.26" stroke="#3a3a3a" stroke-width="1.7"/>
<circle cx="638.26" cy="761.49" r="2.23" fill="none" stroke="#555" stroke-width="0.9"/>
<circle cx="639.54" cy="751.49" r="1.59" fill="none" stroke="#555" stroke-width="0.9"/>
<line x1="754" y1="676" x2="754" y2="745" stroke="#444" stroke-width="1.7"/>
<line x1="755.7" y1="680.5" x2="755.7" y2="740.5" stroke="#777" stroke-width="0.8"/>
<rect x="713.5" y="876.95" width="80.25" height="2" fill="#555" stroke="#3a3a3a" stroke-width="0.8"/>
<line x1="793.1" y1="854.4" x2="787.1" y2="854.4" stroke="#4a4a4a" stroke-width="0.9"/>
<line x1="793.1" y1="857.2" x2="787.1" y2="857.2" stroke="#4a4a4a" stroke-width="0.9"/>
<line x1="784.6" y1="854.4" x2="778.1" y2="854.4" stroke="#4a4a4a" stroke-width="0.9"/>
<line x1="784.6" y1="857.2" x2="778.1" y2="857.2" stroke="#4a4a4a" stroke-width="0.9"/>
<circle cx="773.1" cy="855.8" r="4.6" fill="none" stroke="#4a4a4a" stroke-width="0.9" stroke-dasharray="2.6 1.6"/>
<path d="M777.7 851 L773.7 855.8 L777.7 860.6" fill="none" stroke="#4a4a4a" stroke-width="0.9"/>
<circle cx="772.9" cy="855.8" r="1.5" fill="none" stroke="#4a4a4a" stroke-width="0.8"/>
<rect x="771.8" y="879.75" width="21.95" height="50.45" fill="none" stroke="#3c3c3c" stroke-width="1.5"/>
<rect x="773.6" y="894" width="17.6" height="21.2" fill="none" stroke="#4a4a4a" stroke-width="1"/>
<rect x="775.4" y="896.2" width="13.4" height="17" fill="none" stroke="#8a8a8a" stroke-width="0.7"/>
<line x1="782.2" y1="902" x2="780.8" y2="902" stroke="#4a4a4a" stroke-width="0.8"/>
<rect x="785.6" y="941" width="8.15" height="22.6" fill="none" stroke="#4a4a4a" stroke-width="1"/>
<line x1="789.4" y1="943.4" x2="789.4" y2="961.2" stroke="#6a6a6a" stroke-width="0.8"/>
<path d="M785.6 941.6 L768.6 941.2 L768.6 941.2 L765.86 941.58 L763.3 942.69 L761.1 944.45 L759.42 946.75 L758.36 949.43 L758 952.3 L758.36 955.17 L759.42 957.85 L761.1 960.15 L763.3 961.91 L765.86 963.02 L768.6 963.4 L768.6 963.4 L785.6 963" fill="none" stroke="#4a4a4a" stroke-width="1"/>
<path d="M782.6 944 L769 944 L769 944 L766.93 944.28 L765 945.11 L763.34 946.43 L762.07 948.15 L761.27 950.15 L761 952.3 L761.27 954.45 L762.07 956.45 L763.34 958.17 L765 959.49 L766.93 960.32 L769 960.6 L769 960.6 L782.6 960.6 Z" fill="none" stroke="#6a6a6a" stroke-width="0.8"/>
<rect x="769.1" y="947.4" width="9" height="10" fill="none" stroke="#4a4a4a" stroke-width="1"/>
<rect x="771" y="949.2" width="5.2" height="6.4" fill="none" stroke="#6a6a6a" stroke-width="0.7"/>
<rect x="710.5" y="980.95" width="83.25" height="22.85" fill="none" stroke="#3c3c3c" stroke-width="1.3"/>
<rect x="712.5" y="982.95" width="79.25" height="18.85" fill="none" stroke="#6a6a6a" stroke-width="0.7"/>
<line x1="791.75" y1="993.88" x2="712.5" y2="993.88" stroke="#6a6a6a" stroke-width="0.8"/>
<line x1="786.9" y1="983.95" x2="789.3" y2="1000.8" stroke="#3c3c3c" stroke-width="1.1"/>
<line x1="783.8" y1="983.95" x2="783.4" y2="1000.8" stroke="#3c3c3c" stroke-width="1.1"/>
<line x1="781.5" y1="983.95" x2="779.7" y2="1000.8" stroke="#3c3c3c" stroke-width="1.1"/>
<line x1="775.8" y1="983.95" x2="775.4" y2="1000.8" stroke="#3c3c3c" stroke-width="1.1"/>
<line x1="769.8" y1="983.95" x2="772.4" y2="1000.8" stroke="#3c3c3c" stroke-width="1.1"/>
<line x1="763" y1="983.95" x2="766.2" y2="1000.8" stroke="#3c3c3c" stroke-width="1.1"/>
<line x1="760.8" y1="983.95" x2="760.4" y2="1000.8" stroke="#3c3c3c" stroke-width="1.1"/>
<line x1="758.3" y1="983.95" x2="755.9" y2="1000.8" stroke="#3c3c3c" stroke-width="1.1"/>
<line x1="752.8" y1="983.95" x2="752.4" y2="1000.8" stroke="#3c3c3c" stroke-width="1.1"/>
<line x1="745.7" y1="983.95" x2="748.5" y2="1000.8" stroke="#3c3c3c" stroke-width="1.1"/>
<line x1="741.1" y1="983.95" x2="744.1" y2="1000.8" stroke="#3c3c3c" stroke-width="1.1"/>
<line x1="738.8" y1="983.95" x2="738.4" y2="1000.8" stroke="#3c3c3c" stroke-width="1.1"/>
<line x1="735.4" y1="983.95" x2="732.8" y2="1000.8" stroke="#3c3c3c" stroke-width="1.1"/>
<line x1="728.9" y1="983.95" x2="728.3" y2="1000.8" stroke="#3c3c3c" stroke-width="1.1"/>
<line x1="723.4" y1="983.95" x2="725.8" y2="1000.8" stroke="#3c3c3c" stroke-width="1.1"/>
<line x1="719.6" y1="983.95" x2="722.6" y2="1000.8" stroke="#3c3c3c" stroke-width="1.1"/>
<line x1="716.8" y1="983.95" x2="716.4" y2="1000.8" stroke="#3c3c3c" stroke-width="1.1"/>
<line x1="714.7" y1="983.95" x2="712.5" y2="1000.8" stroke="#3c3c3c" stroke-width="1.1"/>
<rect x="691" y="1075.2" width="102.4" height="72" fill="none" stroke="#606060" stroke-width="1.6"/>
<line x1="790.8" y1="1075.2" x2="790.8" y2="1147.2" stroke="#777" stroke-width="0.8"/>
<line x1="766" y1="1075.2" x2="766" y2="1118" stroke="#4a4a4a" stroke-width="1"/>
<path d="M771.35 1083 L770.64 1085.44 L770.08 1087.88 L769.67 1090.32 L769.41 1092.76 L769.29 1095.2 L769.33 1097.64 L769.51 1100.08 L769.85 1102.52 L770.33 1104.96 L770.96 1107.4 L777.23 1107.4" fill="none" stroke="#7a7a7a" stroke-width="0.9"/>
<path d="M771.35 1083 L785.46 1083 L786.64 1083.98 L787.28 1086.22 L787.77 1088.48 L788.12 1090.73 L788.33 1092.99 L788.4 1095.26 L788.33 1097.53 L788.12 1099.81 L787.77 1102.09 L787.28 1104.38 L786.64 1106.67 L780.76 1107.89" fill="none" stroke="#7a7a7a" stroke-width="0.9"/>
<path d="M777.23 1083.49 L776.26 1084.64 L775.37 1085.87 L774.56 1087.16 L773.85 1088.52 L773.21 1089.95 L772.67 1091.45 L772.21 1093.02 L771.84 1094.65 L771.55 1096.36 L771.35 1098.13" fill="none" stroke="#6a6a6a" stroke-width="1"/>
<path d="M778.02 1083.98 L776.85 1086.23 L776.01 1088.5 L775.5 1090.8 L775.32 1093.11 L775.47 1095.44 L775.95 1097.8 L776.75 1100.17 L777.89 1102.56 L779.36 1104.97 L781.15 1107.4" fill="none" stroke="#6a6a6a" stroke-width="1"/>
<path d="M776.84 1089.1 L776.71 1090.31 L776.64 1091.49 L776.62 1092.65 L776.65 1093.78 L776.74 1094.89 L776.89 1095.98 L777.09 1097.04 L777.34 1098.08 L777.65 1099.09 L778.02 1100.08" fill="none" stroke="#9a9a9a" stroke-width="0.7"/>
<path d="M771.35 1114.4 L770.64 1116.82 L770.08 1119.24 L769.67 1121.66 L769.41 1124.08 L769.29 1126.5 L769.33 1128.92 L769.51 1131.34 L769.85 1133.76 L770.33 1136.18 L770.96 1138.6 L777.23 1138.6" fill="none" stroke="#7a7a7a" stroke-width="0.9"/>
<path d="M771.35 1114.4 L785.46 1114.4 L786.64 1115.37 L787.28 1117.6 L787.77 1119.83 L788.12 1122.07 L788.33 1124.31 L788.4 1126.56 L788.33 1128.81 L788.12 1131.07 L787.77 1133.33 L787.28 1135.6 L786.64 1137.87 L780.76 1139.08" fill="none" stroke="#7a7a7a" stroke-width="0.9"/>
<path d="M777.23 1114.88 L776.26 1116.03 L775.37 1117.25 L774.56 1118.53 L773.85 1119.88 L773.21 1121.3 L772.67 1122.78 L772.21 1124.34 L771.84 1125.96 L771.55 1127.65 L771.35 1129.4" fill="none" stroke="#6a6a6a" stroke-width="1"/>
<path d="M778.02 1115.37 L776.85 1117.6 L776.01 1119.86 L775.5 1122.13 L775.32 1124.43 L775.47 1126.74 L775.95 1129.07 L776.75 1131.43 L777.89 1133.8 L779.36 1136.19 L781.15 1138.6" fill="none" stroke="#6a6a6a" stroke-width="1"/>
<path d="M776.84 1120.45 L776.71 1121.65 L776.64 1122.82 L776.62 1123.97 L776.65 1125.1 L776.74 1126.2 L776.89 1127.27 L777.09 1128.33 L777.34 1129.36 L777.65 1130.36 L778.02 1131.34" fill="none" stroke="#9a9a9a" stroke-width="0.7"/>
<line x1="750.6" y1="1075.2" x2="750.6" y2="1118" stroke="#4a4a4a" stroke-width="1"/>
<line x1="766" y1="1118" x2="729.2" y2="1118" stroke="#4a4a4a" stroke-width="1"/>
<line x1="729.2" y1="1118" x2="729.2" y2="1147.2" stroke="#4a4a4a" stroke-width="1"/>
<line x1="766" y1="1118" x2="738" y2="1147.2" stroke="#4a4a4a" stroke-width="1"/>
<rect x="700.6" y="1054.2" width="55.4" height="14.6" fill="none" stroke="#4a4a4a" stroke-width="1.6"/>
<rect x="702.4" y="1056" width="51.8" height="11" fill="none" stroke="#8a8a8a" stroke-width="0.7"/>
<rect x="705.2" y="1058.6" width="46.2" height="5.8" fill="none" stroke="#4a4a4a" stroke-width="1.5"/>
<rect x="700.6" y="1153.8" width="55.4" height="14.4" fill="none" stroke="#4a4a4a" stroke-width="1.6"/>
<rect x="702.4" y="1155.6" width="51.8" height="10.8" fill="none" stroke="#8a8a8a" stroke-width="0.7"/>
<rect x="705.2" y="1158.2" width="46.2" height="5.6" fill="none" stroke="#4a4a4a" stroke-width="1.5"/>
<rect x="772.4" y="1054" width="20" height="20" fill="none" stroke="#5a5a5a" stroke-width="1"/>
<circle cx="785.6" cy="1066.8" r="5.4" fill="none" stroke="#3c3c3c" stroke-width="1.2"/>
<circle cx="785.6" cy="1066.8" r="3.35" fill="none" stroke="#8a8a8a" stroke-width="0.6"/>
<line x1="785.6" y1="1066.8" x2="785.6" y2="1063.45" stroke="#555" stroke-width="0.8"/>
<line x1="785.6" y1="1066.8" x2="782.7" y2="1068.47" stroke="#555" stroke-width="0.8"/>
<line x1="785.6" y1="1066.8" x2="788.5" y2="1068.47" stroke="#555" stroke-width="0.8"/>
<line x1="783.6" y1="1055.2" x2="786.4" y2="1060.8" stroke="#3a3a3a" stroke-width="1.7"/>
<circle cx="778" cy="1059.6" r="2.1" fill="none" stroke="#555" stroke-width="0.9"/>
<circle cx="776.8" cy="1069.4" r="1.5" fill="none" stroke="#555" stroke-width="0.9"/>
<rect x="772.4" y="1148.8" width="20" height="20" fill="none" stroke="#5a5a5a" stroke-width="1"/>
<circle cx="785.6" cy="1156" r="5.4" fill="none" stroke="#3c3c3c" stroke-width="1.2"/>
<circle cx="785.6" cy="1156" r="3.35" fill="none" stroke="#8a8a8a" stroke-width="0.6"/>
<line x1="785.6" y1="1156" x2="785.6" y2="1159.35" stroke="#555" stroke-width="0.8"/>
<line x1="785.6" y1="1156" x2="782.7" y2="1154.33" stroke="#555" stroke-width="0.8"/>
<line x1="785.6" y1="1156" x2="788.5" y2="1154.33" stroke="#555" stroke-width="0.8"/>
<line x1="783.6" y1="1167.6" x2="786.4" y2="1162" stroke="#3a3a3a" stroke-width="1.7"/>
<circle cx="778" cy="1163.2" r="2.1" fill="none" stroke="#555" stroke-width="0.9"/>
<circle cx="776.8" cy="1153.4" r="1.5" fill="none" stroke="#555" stroke-width="0.9"/>
<line x1="654.5" y1="1093.4" x2="654.5" y2="1163.4" stroke="#444" stroke-width="1.7"/>
<line x1="652.8" y1="1097.9" x2="652.8" y2="1158.9" stroke="#777" stroke-width="0.8"/>
<path d="M506.2 628 L505.43 628.15 L504.79 628.59 L504.35 629.23 L504.2 630 L504.2 657.6 L504.35 658.37 L504.79 659.01 L505.43 659.45 L506.2 659.6 L524.4 659.6 L525.17 659.45 L525.81 659.01 L526.25 658.37 L526.4 657.6 L526.4 630 L526.25 629.23 L525.81 628.59 L525.17 628.15 L524.4 628 Z" fill="none" stroke="#333" stroke-width="1.3"/>
<rect x="506" y="629.8" width="18.6" height="28" fill="none" stroke="#6a6a6a" stroke-width="0.7"/>
<line x1="523.4" y1="632" x2="523.4" y2="655.6" stroke="#444" stroke-width="0.8"/>
<line x1="522.15" y1="632" x2="522.15" y2="655.6" stroke="#444" stroke-width="0.8"/>
<line x1="520.9" y1="632" x2="520.9" y2="655.6" stroke="#444" stroke-width="0.8"/>
<line x1="519.65" y1="632" x2="519.65" y2="655.6" stroke="#444" stroke-width="0.8"/>
<line x1="518.4" y1="632" x2="518.4" y2="655.6" stroke="#444" stroke-width="0.8"/>
<rect x="507.2" y="632.2" width="9.8" height="23.2" fill="none" stroke="#333" stroke-width="1.1"/>
<line x1="513.9" y1="643.8" x2="503.2" y2="643.8" stroke="#1c1c1c" stroke-width="1.7"/>
<line x1="507.4" y1="640.6" x2="507.4" y2="647" stroke="#1c1c1c" stroke-width="1.5"/>
<circle cx="513.9" cy="643.8" r="1.2" fill="#fff" stroke="#1c1c1c" stroke-width="0.8"/>
<rect x="501" y="636.4" width="3.2" height="14.8" fill="none" stroke="#444" stroke-width="0.8"/>
<line x1="504.2" y1="640" x2="501" y2="640" stroke="#444" stroke-width="0.7"/>
<line x1="504.2" y1="647.6" x2="501" y2="647.6" stroke="#444" stroke-width="0.7"/>
<path d="M505 666.2 L503.85 666.43 L502.88 667.08 L502.23 668.05 L502 669.2 L502 694.6 L502.23 695.75 L502.88 696.72 L503.85 697.37 L505 697.6 L531.2 697.6 L532.35 697.37 L533.32 696.72 L533.97 695.75 L534.2 694.6 L534.2 669.2 L533.97 668.05 L533.32 667.08 L532.35 666.43 L531.2 666.2 Z" fill="none" stroke="#2e2e2e" stroke-width="1.4"/>
<line x1="531.7" y1="667.8" x2="503" y2="667.8" stroke="#333" stroke-width="1.1"/>
<line x1="531.7" y1="696" x2="503" y2="696" stroke="#333" stroke-width="1.1"/>
<line x1="530.6" y1="672.2" x2="530.6" y2="691.6" stroke="#555" stroke-width="0.8"/>
<line x1="529.1" y1="672.2" x2="529.1" y2="691.6" stroke="#555" stroke-width="0.8"/>
<line x1="527.6" y1="672.2" x2="527.6" y2="691.6" stroke="#555" stroke-width="0.8"/>
<line x1="526.1" y1="672.2" x2="526.1" y2="691.6" stroke="#555" stroke-width="0.8"/>
<line x1="523.8" y1="669.2" x2="523.8" y2="694.6" stroke="#2e2e2e" stroke-width="1.4"/>
<line x1="522.2" y1="677.2" x2="522.2" y2="686.6" stroke="#2e2e2e" stroke-width="1.8"/>
<path d="M510 670.2 L509.39 670.32 L508.87 670.67 L508.52 671.19 L508.4 671.8 L508.4 692 L508.52 692.61 L508.87 693.13 L509.39 693.48 L510 693.6 L518 693.6 L518.61 693.48 L519.13 693.13 L519.48 692.61 L519.6 692 L519.6 671.8 L519.48 671.19 L519.13 670.67 L518.61 670.32 L518 670.2 Z" fill="none" stroke="#2e2e2e" stroke-width="1.2"/>
<rect x="510.4" y="672.6" width="7.2" height="18.6" fill="none" stroke="#6a6a6a" stroke-width="0.7"/>
<circle cx="513.8" cy="682.5" r="1.7" fill="none" stroke="#555" stroke-width="0.7"/>
<line x1="515.2" y1="675.6" x2="511.8" y2="678.6" stroke="#555" stroke-width="0.8"/>
<line x1="515.6" y1="688.2" x2="512.2" y2="685.6" stroke="#555" stroke-width="0.8"/>
<line x1="506.4" y1="670.2" x2="506.4" y2="693.6" stroke="#2e2e2e" stroke-width="1.2"/>
<line x1="504.6" y1="670.2" x2="504.6" y2="693.6" stroke="#6a6a6a" stroke-width="0.7"/>
<line x1="527.1" y1="707.9" x2="527.1" y2="848.6" stroke="#4a4a4a" stroke-width="1"/>
<line x1="527.1" y1="757.6" x2="500.84" y2="757.6" stroke="#4a4a4a" stroke-width="1"/>
<line x1="527.1" y1="806.2" x2="500.84" y2="806.2" stroke="#4a4a4a" stroke-width="1"/>
<line x1="527.1" y1="848.6" x2="500.84" y2="848.6" stroke="#4a4a4a" stroke-width="1"/>
<rect x="502.2" y="717.6" width="23.4" height="29.2" fill="none" stroke="#6a6a6a" stroke-width="0.8"/>
<circle cx="520.4" cy="724.2" r="3.9" fill="none" stroke="#333" stroke-width="1.1"/>
<circle cx="520.4" cy="724.2" r="2.2" fill="none" stroke="#333" stroke-width="1.3"/>
<circle cx="520.4" cy="724.2" r="0.7" fill="#333" stroke="#333" stroke-width="0.6"/>
<circle cx="507.2" cy="724.2" r="3.9" fill="none" stroke="#333" stroke-width="1.1"/>
<circle cx="507.2" cy="724.2" r="2.2" fill="none" stroke="#333" stroke-width="1.3"/>
<circle cx="507.2" cy="724.2" r="0.7" fill="#333" stroke="#333" stroke-width="0.6"/>
<circle cx="520.4" cy="735.6" r="3.9" fill="none" stroke="#333" stroke-width="1.1"/>
<circle cx="520.4" cy="735.6" r="2.2" fill="none" stroke="#333" stroke-width="1.3"/>
<circle cx="520.4" cy="735.6" r="0.7" fill="#333" stroke="#333" stroke-width="0.6"/>
<circle cx="507.2" cy="735.6" r="3.9" fill="none" stroke="#333" stroke-width="1.1"/>
<circle cx="507.2" cy="735.6" r="2.2" fill="none" stroke="#333" stroke-width="1.3"/>
<circle cx="507.2" cy="735.6" r="0.7" fill="#333" stroke="#333" stroke-width="0.6"/>
<line x1="513" y1="743.2" x2="513" y2="745.6" stroke="#333" stroke-width="0.8"/>
<line x1="511.1" y1="743.2" x2="511.1" y2="745.6" stroke="#333" stroke-width="0.8"/>
<line x1="509.2" y1="743.2" x2="509.2" y2="745.6" stroke="#333" stroke-width="0.8"/>
<line x1="507.3" y1="743.2" x2="507.3" y2="745.6" stroke="#333" stroke-width="0.8"/>
<line x1="505.4" y1="743.2" x2="505.4" y2="745.6" stroke="#333" stroke-width="0.8"/>
<line x1="513.8" y1="745.8" x2="504" y2="745.8" stroke="#333" stroke-width="0.7"/>
<path d="M508.2 775 L507.28 775.18 L506.5 775.7 L505.98 776.48 L505.8 777.4 L505.8 793.4 L505.98 794.32 L506.5 795.1 L507.28 795.62 L508.2 795.8 L522.2 795.8 L523.12 795.62 L523.9 795.1 L524.42 794.32 L524.6 793.4 L524.6 777.4 L524.42 776.48 L523.9 775.7 L523.12 775.18 L522.2 775 Z" fill="none" stroke="#333" stroke-width="1.2"/>
<path d="M509.2 776.6 L508.51 776.74 L507.93 777.13 L507.54 777.71 L507.4 778.4 L507.4 792.4 L507.54 793.09 L507.93 793.67 L508.51 794.06 L509.2 794.2 L521.2 794.2 L521.89 794.06 L522.47 793.67 L522.86 793.09 L523 792.4 L523 778.4 L522.86 777.71 L522.47 777.13 L521.89 776.74 L521.2 776.6 Z" fill="none" stroke="#6a6a6a" stroke-width="0.7"/>
<circle cx="515.8" cy="785.2" r="1.5" fill="none" stroke="#333" stroke-width="0.8"/>
<line x1="510.6" y1="785.2" x2="502.6" y2="785.2" stroke="#222" stroke-width="1.3"/>
<line x1="509.2" y1="783" x2="509.2" y2="787.6" stroke="#222" stroke-width="1"/>
<rect x="501.8" y="848.8" width="36.6" height="32.2" fill="none" stroke="#333" stroke-width="1.2"/>
<line x1="538.4" y1="851.4" x2="538.4" y2="879.4" stroke="#333" stroke-width="2"/>
<line x1="503.6" y1="850.5" x2="503.6" y2="880" stroke="#333" stroke-width="1.6"/>
<line x1="527.1" y1="849" x2="527.1" y2="881" stroke="#333" stroke-width="1" stroke-dasharray="5 3"/>
<circle cx="538.6" cy="880.8" r="0.9" fill="#333" stroke="#333" stroke-width="0.6"/>
<rect x="500.84" y="918.8" width="69.16" height="42.6" fill="url(#hatch)" stroke="#555" stroke-width="1"/>
<rect x="542.2" y="902.4" width="22" height="2.6" fill="#b5b5b5" stroke="#666" stroke-width="0.8"/>
<path d="M543.8 906.8 L543.19 906.92 L542.67 907.27 L542.32 907.79 L542.2 908.4 L542.2 926 L542.32 926.61 L542.67 927.13 L543.19 927.48 L543.8 927.6 L562.6 927.6 L563.21 927.48 L563.73 927.13 L564.08 926.61 L564.2 926 L564.2 908.4 L564.08 907.79 L563.73 907.27 L563.21 906.92 L562.6 906.8 Z" fill="none" stroke="#444" stroke-width="1.1"/>
<rect x="545" y="909.4" width="16.4" height="15.6" fill="none" stroke="#444" stroke-width="1.2"/>
<rect x="546.4" y="910.8" width="13.6" height="12.8" fill="none" stroke="#8a8a8a" stroke-width="0.6"/>
<rect x="507" y="902.4" width="22.2" height="2.6" fill="#b5b5b5" stroke="#666" stroke-width="0.8"/>
<path d="M508.6 906.8 L507.99 906.92 L507.47 907.27 L507.12 907.79 L507 908.4 L507 926 L507.12 926.61 L507.47 927.13 L507.99 927.48 L508.6 927.6 L527.6 927.6 L528.21 927.48 L528.73 927.13 L529.08 926.61 L529.2 926 L529.2 908.4 L529.08 907.79 L528.73 907.27 L528.21 906.92 L527.6 906.8 Z" fill="none" stroke="#444" stroke-width="1.1"/>
<rect x="509.8" y="909.4" width="16.6" height="15.6" fill="none" stroke="#444" stroke-width="1.2"/>
<rect x="511.2" y="910.8" width="13.8" height="12.8" fill="none" stroke="#8a8a8a" stroke-width="0.6"/>
<rect x="542.2" y="975" width="22" height="2.6" fill="#b5b5b5" stroke="#666" stroke-width="0.8"/>
<path d="M543.8 952.4 L543.19 952.52 L542.67 952.87 L542.32 953.39 L542.2 954 L542.2 971.6 L542.32 972.21 L542.67 972.73 L543.19 973.08 L543.8 973.2 L562.6 973.2 L563.21 973.08 L563.73 972.73 L564.08 972.21 L564.2 971.6 L564.2 954 L564.08 953.39 L563.73 952.87 L563.21 952.52 L562.6 952.4 Z" fill="none" stroke="#444" stroke-width="1.1"/>
<rect x="545" y="955" width="16.4" height="15.6" fill="none" stroke="#444" stroke-width="1.2"/>
<rect x="546.4" y="956.4" width="13.6" height="12.8" fill="none" stroke="#8a8a8a" stroke-width="0.6"/>
<rect x="507" y="975" width="22.2" height="2.6" fill="#b5b5b5" stroke="#666" stroke-width="0.8"/>
<path d="M508.6 952.4 L507.99 952.52 L507.47 952.87 L507.12 953.39 L507 954 L507 971.6 L507.12 972.21 L507.47 972.73 L507.99 973.08 L508.6 973.2 L527.6 973.2 L528.21 973.08 L528.73 972.73 L529.08 972.21 L529.2 971.6 L529.2 954 L529.08 953.39 L528.73 952.87 L528.21 952.52 L527.6 952.4 Z" fill="none" stroke="#444" stroke-width="1.1"/>
<rect x="509.8" y="955" width="16.6" height="15.6" fill="none" stroke="#444" stroke-width="1.2"/>
<rect x="511.2" y="956.4" width="13.8" height="12.8" fill="none" stroke="#8a8a8a" stroke-width="0.6"/>
<rect x="513.2" y="1016.8" width="36.6" height="11.6" fill="#fff" stroke="#4a4a4a" stroke-width="1"/>
<rect x="513.2" y="1090.2" width="36.6" height="9.8" fill="#fff" stroke="#4a4a4a" stroke-width="1"/>
<line x1="547.2" y1="1028.4" x2="547.2" y2="1090.2" stroke="#4a4a4a" stroke-width="1"/>
<line x1="544.6" y1="1028.4" x2="544.6" y2="1090.2" stroke="#6a6a6a" stroke-width="0.7"/>
<line x1="518.2" y1="1028.4" x2="518.2" y2="1090.2" stroke="#4a4a4a" stroke-width="1"/>
<line x1="513.2" y1="1019.4" x2="500.84" y2="1019.4" stroke="#4a4a4a" stroke-width="1"/>
<line x1="513.2" y1="1097.4" x2="500.84" y2="1097.4" stroke="#4a4a4a" stroke-width="1"/>
<line x1="509.2" y1="1019.4" x2="509.2" y2="1097.4" stroke="#4a4a4a" stroke-width="1"/>
<line x1="506.6" y1="1019.4" x2="506.6" y2="1097.4" stroke="#6a6a6a" stroke-width="0.8"/>
<line x1="547.2" y1="1040.2" x2="500.84" y2="1040.2" stroke="#4a4a4a" stroke-width="1"/>
<line x1="547.2" y1="1057" x2="500.84" y2="1057" stroke="#4a4a4a" stroke-width="1"/>
<line x1="554.6" y1="1040.2" x2="547.2" y2="1040.2" stroke="#4a4a4a" stroke-width="0.8"/>
<rect x="633.2" y="1003.2" width="10.6" height="55.2" fill="none" stroke="#4a4a4a" stroke-width="1"/>
<line x1="637" y1="1008" x2="637" y2="1054" stroke="#333" stroke-width="1.8"/>
<line x1="639.4" y1="1024" x2="639.4" y2="1040" stroke="#555" stroke-width="2.2"/>
<line x1="635" y1="1012" x2="635" y2="1050" stroke="#888" stroke-width="0.8"/>
<circle cx="578.4" cy="1006.8" r="6.6" fill="#fff" stroke="#111" stroke-width="1"/>
<path d="M578.4 1006.8 L578.4 1000.2 L577.11 1000.33 L575.87 1000.7 L574.73 1001.31 L573.73 1002.13 L572.91 1003.13 L572.3 1004.27 L571.93 1005.51 L571.8 1006.8 Z" fill="#111" stroke="none" stroke-width="0"/>
<path d="M578.4 1006.8 L578.4 1013.4 L579.69 1013.27 L580.93 1012.9 L582.07 1012.29 L583.07 1011.47 L583.89 1010.47 L584.5 1009.33 L584.87 1008.09 L585 1006.8 Z" fill="#111" stroke="none" stroke-width="0"/>
<line x1="587" y1="1006.8" x2="569.8" y2="1006.8" stroke="#111" stroke-width="0.7"/>
<line x1="578.4" y1="998.2" x2="578.4" y2="1015.4" stroke="#111" stroke-width="0.7"/>
<g fill="none" stroke="#6f6f6f" stroke-width="0.9" stroke-linecap="round" stroke-linejoin="round" transform="translate(990.6 0) scale(-1 1)">
<path d="M 368.11 1194.06 C 369.36 1179.82 380.93 1171.28 414.73 1167.72 C 448.54 1171.28 460.28 1179.82 461.53 1194.06 L 462.42 1359.54 C 462.06 1370.21 457.44 1376.44 446.76 1377.69 C 432.53 1380.53 396.94 1380.53 382.7 1377.69 C 372.03 1376.44 367.4 1370.21 367.05 1359.54 Z"/>
<path stroke="#8c8c8c" d="M 370.25 1195.84 C 372.03 1182.49 382.7 1174.13 414.73 1170.57 C 446.76 1174.13 457.44 1182.49 459.22 1195.84 L 459.93 1358.65 C 459.57 1368.43 455.66 1373.77 446.05 1375.2 C 432.53 1377.69 396.94 1377.69 383.42 1375.2 C 373.81 1373.77 369.89 1368.43 369.54 1358.65 Z"/>
<path d="M 375.59 1185.16 C 386.26 1176.62 398.72 1173.77 414.73 1173.06 C 430.75 1173.77 443.2 1176.62 453.88 1185.16"/>
<path d="M 412.06 1176.62 L 408.68 1213.63 M 417.4 1176.62 L 420.78 1213.63 M 412.06 1176.62 L 417.4 1176.62"/>
<path stroke-width="1.4" d="M 413.31 1176.62 L 413.31 1179.82 M 416.16 1176.62 L 416.16 1179.82"/>
<path d="M 397.83 1181.6 L 388.4 1216.3 M 431.64 1181.6 L 441.07 1216.3"/>
<path d="M 384.48 1183.38 C 380.04 1201.17 377.37 1215.41 375.59 1231.78 M 444.98 1183.38 C 449.43 1201.17 452.1 1215.41 453.88 1231.78"/>
<path d="M 389.11 1215.77 L 408.33 1214.7 L 407.62 1219.86 L 390.18 1220.75 Z"/>
<path stroke="#6f6f6f" d="M 391.25 1215.77 L 391.25 1220.04"/>
<path stroke="#6f6f6f" d="M 393.38 1215.77 L 393.38 1220.04"/>
<path stroke="#6f6f6f" d="M 395.52 1215.77 L 395.52 1220.04"/>
<path stroke="#6f6f6f" d="M 397.65 1215.77 L 397.65 1220.04"/>
<path stroke="#6f6f6f" d="M 399.79 1215.77 L 399.79 1220.04"/>
<path stroke="#6f6f6f" d="M 401.92 1215.77 L 401.92 1220.04"/>
<path stroke="#6f6f6f" d="M 404.06 1215.77 L 404.06 1220.04"/>
<path stroke="#6f6f6f" d="M 406.19 1215.77 L 406.19 1220.04"/>
<path d="M 421.14 1215.77 L 440.36 1214.7 L 439.64 1219.86 L 422.21 1220.75 Z"/>
<path stroke="#6f6f6f" d="M 423.27 1215.77 L 423.27 1220.04"/>
<path stroke="#6f6f6f" d="M 425.41 1215.77 L 425.41 1220.04"/>
<path stroke="#6f6f6f" d="M 427.54 1215.77 L 427.54 1220.04"/>
<path stroke="#6f6f6f" d="M 429.68 1215.77 L 429.68 1220.04"/>
<path stroke="#6f6f6f" d="M 431.81 1215.77 L 431.81 1220.04"/>
<path stroke="#6f6f6f" d="M 433.95 1215.77 L 433.95 1220.04"/>
<path stroke="#6f6f6f" d="M 436.09 1215.77 L 436.09 1220.04"/>
<path stroke="#6f6f6f" d="M 438.22 1215.77 L 438.22 1220.04"/>
<path d="M 375.59 1231.78 C 393.38 1222.53 436.09 1222.53 453.88 1231.78"/>
<path stroke="#8c8c8c" d="M 377.72 1234.98 C 395.16 1226.09 434.31 1226.09 451.74 1234.98"/>
<path d="M 383.24 1263.45 C 398.72 1259.54 430.75 1259.54 446.23 1263.45"/>
<path d="M 375.59 1231.78 L 383.24 1263.45 M 453.88 1231.78 L 446.23 1263.45"/>
<path stroke="#8c8c8c" d="M 373.1 1233.2 L 380.57 1265.23 M 456.37 1233.2 L 448.9 1265.23"/>
<path d="M 383.24 1263.45 C 385.91 1290.14 386.62 1325.73 384.48 1347.44 M 446.23 1263.45 C 443.56 1290.14 442.85 1325.73 444.98 1347.44"/>
<path d="M 371.67 1236.76 C 370.6 1272.35 370.6 1325.73 375.59 1357.76 M 457.79 1236.76 C 458.86 1272.35 458.86 1325.73 453.88 1357.76"/>
<path stroke="#8c8c8c" d="M 380.57 1265.23 C 388.93 1290.14 390.71 1322.17 386.62 1343.52 M 448.9 1265.23 C 440.53 1290.14 438.75 1322.17 442.85 1343.52"/>
<path stroke="#8c8c8c" d="M 368.47 1281.25 L 371.67 1281.25 M 461 1281.25 L 457.79 1281.25 M 368.11 1236.76 L 372.03 1243.88 M 461.35 1236.76 L 457.44 1243.88"/>
<path d="M 384.48 1347.44 L 444.98 1347.44 M 384.48 1347.44 L 383.42 1358.11 C 398.72 1360.6 430.75 1360.6 446.05 1358.11 L 444.98 1347.44"/>
<path d="M 383.42 1358.11 L 388.04 1371.99 C 402.28 1374.13 427.19 1374.13 441.42 1371.99 L 446.05 1358.11"/>
<path stroke="#8c8c8c" d="M 375.59 1357.76 L 379.5 1372.88 M 453.88 1357.76 L 449.96 1372.88"/>
<path d="M 458.86 1245.3 L 468.47 1248.86 L 468.83 1253.13 L 462.78 1252.06 Z"/>
</g>
<line x1="490.66" y1="553.55" x2="499.94" y2="553.55" stroke="#4a4a4a" stroke-width="1"/>
<line x1="490.66" y1="1167.9" x2="499.94" y2="1167.9" stroke="#4a4a4a" stroke-width="1"/>
<line x1="489.76" y1="595.55" x2="500.84" y2="595.55" stroke="#4a4a4a" stroke-width="1"/>
<line x1="489.76" y1="1135.9" x2="500.84" y2="1135.9" stroke="#4a4a4a" stroke-width="1"/>
<line x1="181.65" y1="525" x2="808.95" y2="525" stroke="#ae6c6a" stroke-width="1"/>
<line x1="186.15" y1="520.5" x2="186.15" y2="529.5" stroke="#c9524f" stroke-width="1"/>
<line x1="804.45" y1="520.5" x2="804.45" y2="529.5" stroke="#c9524f" stroke-width="1"/>
<text x="494.3" y="519.5" font-size="6.6" fill="#b39390" text-anchor="middle" class="cad" letter-spacing="0.5">11.55</text>
<line x1="181.65" y1="542.5" x2="808.95" y2="542.5" stroke="#ae6c6a" stroke-width="1"/>
<line x1="186.15" y1="538" x2="186.15" y2="547" stroke="#c9524f" stroke-width="1"/>
<line x1="495.3" y1="538" x2="495.3" y2="547" stroke="#c9524f" stroke-width="1"/>
<line x1="804.45" y1="538" x2="804.45" y2="547" stroke="#c9524f" stroke-width="1"/>
<text x="340.73" y="538" font-size="6.6" fill="#b39390" text-anchor="middle" class="cad" letter-spacing="0.5">5.775</text>
<text x="649.88" y="538" font-size="6.6" fill="#b39390" text-anchor="middle" class="cad" letter-spacing="0.5">5.775</text>
<line x1="181.65" y1="567.5" x2="808.95" y2="567.5" stroke="#ae6c6a" stroke-width="1"/>
<line x1="186.15" y1="560.5" x2="186.15" y2="574.5" stroke="#c9524f" stroke-width="1"/>
<line x1="226.28" y1="560.5" x2="226.28" y2="574.5" stroke="#c9524f" stroke-width="1"/>
<line x1="234.3" y1="560.5" x2="234.3" y2="574.5" stroke="#c9524f" stroke-width="1"/>
<line x1="368.05" y1="560.5" x2="368.05" y2="574.5" stroke="#c9524f" stroke-width="1"/>
<line x1="376.07" y1="560.5" x2="376.07" y2="574.5" stroke="#c9524f" stroke-width="1"/>
<line x1="489.76" y1="560.5" x2="489.76" y2="574.5" stroke="#c9524f" stroke-width="1"/>
<line x1="500.84" y1="560.5" x2="500.84" y2="574.5" stroke="#c9524f" stroke-width="1"/>
<line x1="614.53" y1="560.5" x2="614.53" y2="574.5" stroke="#c9524f" stroke-width="1"/>
<line x1="622.55" y1="560.5" x2="622.55" y2="574.5" stroke="#c9524f" stroke-width="1"/>
<line x1="756.3" y1="560.5" x2="756.3" y2="574.5" stroke="#c9524f" stroke-width="1"/>
<line x1="764.33" y1="560.5" x2="764.33" y2="574.5" stroke="#c9524f" stroke-width="1"/>
<line x1="804.45" y1="560.5" x2="804.45" y2="574.5" stroke="#c9524f" stroke-width="1"/>
<text x="206.21" y="562" font-size="6.6" fill="#b39390" text-anchor="middle" class="cad" letter-spacing="0.5">0.75</text>
<text x="230.29" y="562" font-size="6.6" fill="#b39390" text-anchor="middle" class="cad" letter-spacing="0.5">0.15</text>
<text x="301.18" y="562" font-size="6.6" fill="#b39390" text-anchor="middle" class="cad" letter-spacing="0.5">2.50</text>
<text x="372.06" y="562" font-size="6.6" fill="#b39390" text-anchor="middle" class="cad" letter-spacing="0.5">0.15</text>
<text x="432.92" y="562" font-size="6.6" fill="#b39390" text-anchor="middle" class="cad" letter-spacing="0.5">2.125</text>
<text x="557.68" y="562" font-size="6.6" fill="#b39390" text-anchor="middle" class="cad" letter-spacing="0.5">2.125</text>
<text x="618.54" y="562" font-size="6.6" fill="#b39390" text-anchor="middle" class="cad" letter-spacing="0.5">0.15</text>
<text x="689.42" y="562" font-size="6.6" fill="#b39390" text-anchor="middle" class="cad" letter-spacing="0.5">2.50</text>
<text x="760.31" y="562" font-size="6.6" fill="#b39390" text-anchor="middle" class="cad" letter-spacing="0.5">0.15</text>
<text x="784.39" y="562" font-size="6.6" fill="#b39390" text-anchor="middle" class="cad" letter-spacing="0.5">0.75</text>
<text x="495.3" y="556" font-size="6.6" fill="#a8433b" text-anchor="middle" class="cadn">0.20</text>
<line x1="484.4" y1="559.4" x2="506" y2="559.4" stroke="#b5524c" stroke-width="1"/>
<line x1="490.66" y1="553.5" x2="490.66" y2="576" stroke="#c9524f" stroke-width="1.2"/>
<line x1="499.94" y1="553.5" x2="499.94" y2="576" stroke="#c9524f" stroke-width="1.2"/>
<line x1="327.93" y1="586" x2="376.07" y2="586" stroke="#ae6c6a" stroke-width="1"/>
<line x1="327.93" y1="581" x2="327.93" y2="590" stroke="#ae6c6a" stroke-width="1"/>
<line x1="376.07" y1="581" x2="376.07" y2="590" stroke="#ae6c6a" stroke-width="1"/>
<line x1="322.93" y1="586" x2="327.93" y2="586" stroke="#ae6c6a" stroke-width="1"/>
<text x="352" y="581.5" font-size="6.6" fill="#b39390" text-anchor="middle" class="cad" letter-spacing="0.5">0.90</text>
<line x1="435.6" y1="226" x2="435.6" y2="699.88" stroke="#ae6c6a" stroke-width="1"/>
<line x1="431.1" y1="226" x2="440.1" y2="226" stroke="#c9524f" stroke-width="1"/>
<line x1="431.1" y1="595.55" x2="440.1" y2="595.55" stroke="#c9524f" stroke-width="1"/>
<line x1="431.1" y1="699.88" x2="440.1" y2="699.88" stroke="#c9524f" stroke-width="1"/>
<text x="431.6" y="496" font-size="6.6" fill="#b39390" text-anchor="middle" class="cad" transform="rotate(-90 431.6 496)" letter-spacing="0.5">6.90</text>
<text x="430.6" y="649" font-size="6.6" fill="#b39390" text-anchor="middle" class="cad" transform="rotate(-90 430.6 649)" letter-spacing="0.5">1.95</text>
<line x1="322.73" y1="592.55" x2="322.73" y2="638.68" stroke="#ae6c6a" stroke-width="1"/>
<line x1="318.23" y1="595.55" x2="327.23" y2="595.55" stroke="#c9524f" stroke-width="1"/>
<line x1="318.23" y1="635.68" x2="327.23" y2="635.68" stroke="#c9524f" stroke-width="1"/>
<text x="313.73" y="615.61" font-size="6.6" fill="#b39390" text-anchor="middle" class="cad" transform="rotate(-90 313.73 615.61)" letter-spacing="0.5">0.75</text>
<line x1="392.5" y1="593.55" x2="392.5" y2="1194.08" stroke="#ae6c6a" stroke-width="1"/>
<line x1="388" y1="595.55" x2="397" y2="595.55" stroke="#c9524f" stroke-width="1"/>
<line x1="388" y1="635.68" x2="397" y2="635.68" stroke="#c9524f" stroke-width="1"/>
<line x1="388" y1="699.88" x2="397" y2="699.88" stroke="#c9524f" stroke-width="1"/>
<line x1="388" y1="707.9" x2="397" y2="707.9" stroke="#c9524f" stroke-width="1"/>
<line x1="388" y1="881.78" x2="397" y2="881.78" stroke="#c9524f" stroke-width="1"/>
<line x1="388" y1="940.63" x2="397" y2="940.63" stroke="#c9524f" stroke-width="1"/>
<line x1="388" y1="1127.88" x2="397" y2="1127.88" stroke="#c9524f" stroke-width="1"/>
<line x1="388" y1="1135.9" x2="397" y2="1135.9" stroke="#c9524f" stroke-width="1"/>
<line x1="388" y1="1192.08" x2="397" y2="1192.08" stroke="#c9524f" stroke-width="1"/>
<text x="388.6" y="616" font-size="6.6" fill="#b39390" text-anchor="middle" class="cad" transform="rotate(-90 388.6 616)" letter-spacing="0.5">0.75</text>
<text x="402" y="676" font-size="6.6" fill="#b39390" text-anchor="middle" class="cad" transform="rotate(-90 402 676)" letter-spacing="0.5">1.35</text>
<text x="390" y="797" font-size="6.6" fill="#b39390" text-anchor="middle" class="cad" transform="rotate(-90 390 797)" letter-spacing="0.5">3.25</text>
<text x="390" y="914" font-size="6.6" fill="#b39390" text-anchor="middle" class="cad" transform="rotate(-90 390 914)" letter-spacing="0.5">1.10</text>
<text x="387.1" y="1055" font-size="6.6" fill="#b39390" text-anchor="middle" class="cad" transform="rotate(-90 387.1 1055)" letter-spacing="0.5">3.50</text>
<text x="387.4" y="1163" font-size="6.6" fill="#b39390" text-anchor="middle" class="cad" transform="rotate(-90 387.4 1163)" letter-spacing="0.5">1.05</text>
<text x="387.6" y="1132" font-size="6.6" fill="#b39390" text-anchor="middle" class="cad" transform="rotate(-90 387.6 1132)">0.15</text>
<text x="396.5" y="705.5" font-size="6.6" fill="#b39390" text-anchor="middle" class="cad" transform="rotate(-90 396.5 705.5)">0.15</text>
<line x1="405.2" y1="705.9" x2="405.2" y2="1129.88" stroke="#ae6c6a" stroke-width="1"/>
<line x1="400.7" y1="707.9" x2="409.7" y2="707.9" stroke="#c9524f" stroke-width="1"/>
<line x1="400.7" y1="1127.88" x2="409.7" y2="1127.88" stroke="#c9524f" stroke-width="1"/>
<text x="405.4" y="924" font-size="6.6" fill="#b39390" text-anchor="middle" class="cad" transform="rotate(-90 405.4 924)" letter-spacing="0.5">7.85</text>
<line x1="320.6" y1="637.7" x2="320.6" y2="831.6" stroke="#ae6c6a" stroke-width="1"/>
<line x1="316.1" y1="643.7" x2="325.1" y2="643.7" stroke="#c9524f" stroke-width="1"/>
<line x1="316.1" y1="825.6" x2="325.1" y2="825.6" stroke="#c9524f" stroke-width="1"/>
<text x="327.6" y="771" font-size="6.6" fill="#b39390" text-anchor="middle" class="cad" transform="rotate(-90 327.6 771)" letter-spacing="0.5">3.40</text>
<line x1="363.6" y1="601.55" x2="363.6" y2="637.68" stroke="#ae6c6a" stroke-width="1"/>
<text x="359.1" y="621" font-size="6.6" fill="#b39390" text-anchor="middle" class="cad" transform="rotate(-90 359.1 621)">0.50</text>
<line x1="312.6" y1="822.6" x2="312.6" y2="987.25" stroke="#ae6c6a" stroke-width="1"/>
<line x1="308.1" y1="827.6" x2="317.1" y2="827.6" stroke="#c9524f" stroke-width="1"/>
<line x1="308.1" y1="873.75" x2="317.1" y2="873.75" stroke="#c9524f" stroke-width="1"/>
<line x1="308.1" y1="881.78" x2="317.1" y2="881.78" stroke="#c9524f" stroke-width="1"/>
<line x1="308.1" y1="940.63" x2="317.1" y2="940.63" stroke="#c9524f" stroke-width="1"/>
<line x1="308.1" y1="948.65" x2="317.1" y2="948.65" stroke="#c9524f" stroke-width="1"/>
<line x1="308.1" y1="982.25" x2="317.1" y2="982.25" stroke="#c9524f" stroke-width="1"/>
<text x="309.1" y="850" font-size="6.6" fill="#b39390" text-anchor="middle" class="cad" transform="rotate(-90 309.1 850)" letter-spacing="0.4">0.90</text>
<text x="309.1" y="877.5" font-size="6.6" fill="#b39390" text-anchor="middle" class="cad" transform="rotate(-90 309.1 877.5)" letter-spacing="0.4">0.15</text>
<text x="309.1" y="911" font-size="6.6" fill="#b39390" text-anchor="middle" class="cad" transform="rotate(-90 309.1 911)" letter-spacing="0.4">1.10</text>
<text x="309.1" y="945" font-size="6.6" fill="#b39390" text-anchor="middle" class="cad" transform="rotate(-90 309.1 945)" letter-spacing="0.4">0.15</text>
<text x="309.1" y="966" font-size="6.6" fill="#b39390" text-anchor="middle" class="cad" transform="rotate(-90 309.1 966)" letter-spacing="0.4">0.60</text>
<line x1="315.4" y1="1181.05" x2="315.4" y2="1187.05" stroke="#ae6c6a" stroke-width="1"/>
<line x1="310.9" y1="1184.05" x2="319.9" y2="1184.05" stroke="#c9524f" stroke-width="1"/>
<line x1="315.4" y1="986.75" x2="315.4" y2="1187.05" stroke="#ae6c6a" stroke-width="1"/>
<text x="307.9" y="1116" font-size="6.6" fill="#b39390" text-anchor="middle" class="cad" transform="rotate(-90 307.9 1116)" letter-spacing="0.5">3.80</text>
<line x1="469.6" y1="1132.9" x2="469.6" y2="1621.9" stroke="#ae6c6a" stroke-width="1"/>
<line x1="465.1" y1="1135.9" x2="474.1" y2="1135.9" stroke="#c9524f" stroke-width="1"/>
<line x1="465.1" y1="1404.5" x2="474.1" y2="1404.5" stroke="#c9524f" stroke-width="1"/>
<line x1="465.1" y1="1618.9" x2="474.1" y2="1618.9" stroke="#c9524f" stroke-width="1"/>
<text x="478.6" y="1272" font-size="6.6" fill="#b39390" text-anchor="middle" class="cad" transform="rotate(-90 478.6 1272)" letter-spacing="0.5">5.00</text>
<text x="463.6" y="1511" font-size="6.6" fill="#b39390" text-anchor="middle" class="cad" transform="rotate(-90 463.6 1511)" letter-spacing="0.5">4.00</text>
<line x1="208.2" y1="781" x2="208.2" y2="831.6" stroke="#ae6c6a" stroke-width="1"/>
<line x1="202.7" y1="785.6" x2="214.7" y2="785.6" stroke="#ae6c6a" stroke-width="1"/>
<line x1="204.2" y1="832.62" x2="212.2" y2="832.62" stroke="#ae6c6a" stroke-width="1"/>
<text x="213.2" y="797" font-size="7.2" fill="#b39390" text-anchor="middle" class="cad" letter-spacing="0.5">0.75</text>
<text x="203.8" y="806" font-size="6.6" fill="#b39390" text-anchor="middle" class="cad" transform="rotate(-90 203.8 806)" letter-spacing="0.3">0.75</text>
<line x1="662.67" y1="586" x2="614.53" y2="586" stroke="#ae6c6a" stroke-width="1"/>
<line x1="662.67" y1="581" x2="662.67" y2="590" stroke="#ae6c6a" stroke-width="1"/>
<line x1="614.53" y1="581" x2="614.53" y2="590" stroke="#ae6c6a" stroke-width="1"/>
<line x1="667.67" y1="586" x2="662.67" y2="586" stroke="#ae6c6a" stroke-width="1"/>
<text x="638.6" y="581.5" font-size="6.6" fill="#b39390" text-anchor="middle" class="cad" letter-spacing="0.5">0.90</text>
<line x1="555" y1="226" x2="555" y2="699.88" stroke="#ae6c6a" stroke-width="1"/>
<line x1="550.5" y1="226" x2="559.5" y2="226" stroke="#c9524f" stroke-width="1"/>
<line x1="550.5" y1="595.55" x2="559.5" y2="595.55" stroke="#c9524f" stroke-width="1"/>
<line x1="550.5" y1="699.88" x2="559.5" y2="699.88" stroke="#c9524f" stroke-width="1"/>
<text x="551" y="496" font-size="6.6" fill="#b39390" text-anchor="middle" class="cad" transform="rotate(-90 551 496)" letter-spacing="0.5">6.90</text>
<text x="550" y="649" font-size="6.6" fill="#b39390" text-anchor="middle" class="cad" transform="rotate(-90 550 649)" letter-spacing="0.5">1.95</text>
<line x1="667.88" y1="592.55" x2="667.88" y2="638.68" stroke="#ae6c6a" stroke-width="1"/>
<line x1="663.38" y1="595.55" x2="672.38" y2="595.55" stroke="#c9524f" stroke-width="1"/>
<line x1="663.38" y1="635.68" x2="672.38" y2="635.68" stroke="#c9524f" stroke-width="1"/>
<text x="658.88" y="615.61" font-size="6.6" fill="#b39390" text-anchor="middle" class="cad" transform="rotate(-90 658.88 615.61)" letter-spacing="0.5">0.75</text>
<line x1="598.1" y1="593.55" x2="598.1" y2="1194.08" stroke="#ae6c6a" stroke-width="1"/>
<line x1="593.6" y1="595.55" x2="602.6" y2="595.55" stroke="#c9524f" stroke-width="1"/>
<line x1="593.6" y1="635.68" x2="602.6" y2="635.68" stroke="#c9524f" stroke-width="1"/>
<line x1="593.6" y1="699.88" x2="602.6" y2="699.88" stroke="#c9524f" stroke-width="1"/>
<line x1="593.6" y1="707.9" x2="602.6" y2="707.9" stroke="#c9524f" stroke-width="1"/>
<line x1="593.6" y1="881.78" x2="602.6" y2="881.78" stroke="#c9524f" stroke-width="1"/>
<line x1="593.6" y1="940.63" x2="602.6" y2="940.63" stroke="#c9524f" stroke-width="1"/>
<line x1="593.6" y1="1127.88" x2="602.6" y2="1127.88" stroke="#c9524f" stroke-width="1"/>
<line x1="593.6" y1="1135.9" x2="602.6" y2="1135.9" stroke="#c9524f" stroke-width="1"/>
<line x1="593.6" y1="1192.08" x2="602.6" y2="1192.08" stroke="#c9524f" stroke-width="1"/>
<text x="590.6" y="615" font-size="6.6" fill="#b39390" text-anchor="middle" class="cad" transform="rotate(-90 590.6 615)" letter-spacing="0.5">0.75</text>
<text x="590.8" y="676" font-size="6.6" fill="#b39390" text-anchor="middle" class="cad" transform="rotate(-90 590.8 676)" letter-spacing="0.5">1.35</text>
<text x="606.2" y="797" font-size="6.6" fill="#b39390" text-anchor="middle" class="cad" transform="rotate(-90 606.2 797)" letter-spacing="0.5">3.25</text>
<text x="604.4" y="914" font-size="6.6" fill="#b39390" text-anchor="middle" class="cad" transform="rotate(-90 604.4 914)" letter-spacing="0.5">1.10</text>
<text x="607.7" y="1055" font-size="6.6" fill="#b39390" text-anchor="middle" class="cad" transform="rotate(-90 607.7 1055)" letter-spacing="0.5">3.50</text>
<text x="592.4" y="1163" font-size="6.6" fill="#b39390" text-anchor="middle" class="cad" transform="rotate(-90 592.4 1163)" letter-spacing="0.5">1.05</text>
<text x="607.8" y="1132" font-size="6.6" fill="#b39390" text-anchor="middle" class="cad" transform="rotate(-90 607.8 1132)">0.15</text>
<text x="599.1" y="705.5" font-size="6.6" fill="#b39390" text-anchor="middle" class="cad" transform="rotate(-90 599.1 705.5)">0.15</text>
<line x1="585.4" y1="705.9" x2="585.4" y2="1129.88" stroke="#ae6c6a" stroke-width="1"/>
<line x1="580.9" y1="707.9" x2="589.9" y2="707.9" stroke="#c9524f" stroke-width="1"/>
<line x1="580.9" y1="1127.88" x2="589.9" y2="1127.88" stroke="#c9524f" stroke-width="1"/>
<text x="590.4" y="918" font-size="6.6" fill="#b39390" text-anchor="middle" class="cad" transform="rotate(-90 590.4 918)" letter-spacing="0.5">7.85</text>
<line x1="670" y1="637.7" x2="670" y2="831.6" stroke="#ae6c6a" stroke-width="1"/>
<line x1="665.5" y1="643.7" x2="674.5" y2="643.7" stroke="#c9524f" stroke-width="1"/>
<line x1="665.5" y1="825.6" x2="674.5" y2="825.6" stroke="#c9524f" stroke-width="1"/>
<text x="668" y="771" font-size="6.6" fill="#b39390" text-anchor="middle" class="cad" transform="rotate(-90 668 771)" letter-spacing="0.5">3.40</text>
<line x1="627" y1="601.55" x2="627" y2="637.68" stroke="#ae6c6a" stroke-width="1"/>
<text x="636.5" y="621" font-size="6.6" fill="#b39390" text-anchor="middle" class="cad" transform="rotate(-90 636.5 621)">0.50</text>
<line x1="678" y1="822.6" x2="678" y2="987.25" stroke="#ae6c6a" stroke-width="1"/>
<line x1="673.5" y1="827.6" x2="682.5" y2="827.6" stroke="#c9524f" stroke-width="1"/>
<line x1="673.5" y1="873.75" x2="682.5" y2="873.75" stroke="#c9524f" stroke-width="1"/>
<line x1="673.5" y1="881.78" x2="682.5" y2="881.78" stroke="#c9524f" stroke-width="1"/>
<line x1="673.5" y1="940.63" x2="682.5" y2="940.63" stroke="#c9524f" stroke-width="1"/>
<line x1="673.5" y1="948.65" x2="682.5" y2="948.65" stroke="#c9524f" stroke-width="1"/>
<line x1="673.5" y1="982.25" x2="682.5" y2="982.25" stroke="#c9524f" stroke-width="1"/>
<text x="686.5" y="850" font-size="6.6" fill="#b39390" text-anchor="middle" class="cad" transform="rotate(-90 686.5 850)" letter-spacing="0.4">0.90</text>
<text x="686.5" y="877.5" font-size="6.6" fill="#b39390" text-anchor="middle" class="cad" transform="rotate(-90 686.5 877.5)" letter-spacing="0.4">0.15</text>
<text x="686.5" y="911" font-size="6.6" fill="#b39390" text-anchor="middle" class="cad" transform="rotate(-90 686.5 911)" letter-spacing="0.4">1.10</text>
<text x="686.5" y="945" font-size="6.6" fill="#b39390" text-anchor="middle" class="cad" transform="rotate(-90 686.5 945)" letter-spacing="0.4">0.15</text>
<text x="686.5" y="966" font-size="6.6" fill="#b39390" text-anchor="middle" class="cad" transform="rotate(-90 686.5 966)" letter-spacing="0.4">0.60</text>
<line x1="675.2" y1="1181.05" x2="675.2" y2="1187.05" stroke="#ae6c6a" stroke-width="1"/>
<line x1="670.7" y1="1184.05" x2="679.7" y2="1184.05" stroke="#c9524f" stroke-width="1"/>
<line x1="675.2" y1="986.75" x2="675.2" y2="1187.05" stroke="#ae6c6a" stroke-width="1"/>
<text x="687.7" y="1116" font-size="6.6" fill="#b39390" text-anchor="middle" class="cad" transform="rotate(-90 687.7 1116)" letter-spacing="0.5">3.80</text>
<line x1="521" y1="1132.9" x2="521" y2="1621.9" stroke="#ae6c6a" stroke-width="1"/>
<line x1="516.5" y1="1135.9" x2="525.5" y2="1135.9" stroke="#c9524f" stroke-width="1"/>
<line x1="516.5" y1="1404.5" x2="525.5" y2="1404.5" stroke="#c9524f" stroke-width="1"/>
<line x1="516.5" y1="1618.9" x2="525.5" y2="1618.9" stroke="#c9524f" stroke-width="1"/>
<text x="517" y="1272" font-size="6.6" fill="#b39390" text-anchor="middle" class="cad" transform="rotate(-90 517 1272)" letter-spacing="0.5">5.00</text>
<text x="515" y="1511" font-size="6.6" fill="#b39390" text-anchor="middle" class="cad" transform="rotate(-90 515 1511)" letter-spacing="0.5">4.00</text>
<line x1="782.4" y1="781" x2="782.4" y2="831.6" stroke="#ae6c6a" stroke-width="1"/>
<line x1="776.9" y1="785.6" x2="788.9" y2="785.6" stroke="#ae6c6a" stroke-width="1"/>
<line x1="778.4" y1="832.62" x2="786.4" y2="832.62" stroke="#ae6c6a" stroke-width="1"/>
<text x="777.9" y="797" font-size="7.2" fill="#b39390" text-anchor="middle" class="cad" letter-spacing="0.5">0.75</text>
<text x="791.4" y="806" font-size="6.6" fill="#b39390" text-anchor="middle" class="cad" transform="rotate(-90 791.4 806)" letter-spacing="0.3">0.75</text>
<line x1="181.15" y1="805.9" x2="246.5" y2="805.9" stroke="#ae6c6a" stroke-width="1"/>
<line x1="809.45" y1="805.9" x2="744.1" y2="805.9" stroke="#ae6c6a" stroke-width="1"/>
<line x1="273" y1="805.9" x2="312" y2="805.9" stroke="#ae6c6a" stroke-width="1"/>
<line x1="717.6" y1="805.9" x2="678.6" y2="805.9" stroke="#ae6c6a" stroke-width="1"/>
<line x1="340.5" y1="805.9" x2="495.3" y2="805.9" stroke="#ae6c6a" stroke-width="1"/>
<line x1="650.1" y1="805.9" x2="495.3" y2="805.9" stroke="#ae6c6a" stroke-width="1"/>
<line x1="186.15" y1="799.4" x2="186.15" y2="812.4" stroke="#c9524f" stroke-width="1"/>
<line x1="804.45" y1="799.4" x2="804.45" y2="812.4" stroke="#c9524f" stroke-width="1"/>
<line x1="226.28" y1="799.4" x2="226.28" y2="812.4" stroke="#c9524f" stroke-width="1"/>
<line x1="764.33" y1="799.4" x2="764.33" y2="812.4" stroke="#c9524f" stroke-width="1"/>
<line x1="234.3" y1="799.4" x2="234.3" y2="812.4" stroke="#c9524f" stroke-width="1"/>
<line x1="756.3" y1="799.4" x2="756.3" y2="812.4" stroke="#c9524f" stroke-width="1"/>
<line x1="285.12" y1="799.4" x2="285.12" y2="812.4" stroke="#c9524f" stroke-width="1"/>
<line x1="705.48" y1="799.4" x2="705.48" y2="812.4" stroke="#c9524f" stroke-width="1"/>
<line x1="368.05" y1="799.4" x2="368.05" y2="812.4" stroke="#c9524f" stroke-width="1"/>
<line x1="622.55" y1="799.4" x2="622.55" y2="812.4" stroke="#c9524f" stroke-width="1"/>
<line x1="376.07" y1="799.4" x2="376.07" y2="812.4" stroke="#c9524f" stroke-width="1"/>
<line x1="614.53" y1="799.4" x2="614.53" y2="812.4" stroke="#c9524f" stroke-width="1"/>
<line x1="489.76" y1="799.4" x2="489.76" y2="812.4" stroke="#c9524f" stroke-width="1"/>
<line x1="500.84" y1="799.4" x2="500.84" y2="812.4" stroke="#c9524f" stroke-width="1"/>
<text x="495.3" y="803.6" font-size="6.6" fill="#b8453b" text-anchor="middle" class="cad">0.20</text>
<text x="259.5" y="803.8" font-size="7" fill="#b39390" text-anchor="middle" class="cad" letter-spacing="0.5">0.95</text>
<text x="326.5" y="803.8" font-size="7" fill="#b39390" text-anchor="middle" class="cad" letter-spacing="0.5">1.55</text>
<text x="433" y="801.5" font-size="7" fill="#b39390" text-anchor="middle" class="cad" letter-spacing="0.5">2.125</text>
<text x="372.2" y="803.8" font-size="6.6" fill="#b39390" text-anchor="middle" class="cad">0.15</text>
<line x1="285.12" y1="897.6" x2="376.07" y2="897.6" stroke="#ae6c6a" stroke-width="1"/>
<line x1="285.12" y1="891.6" x2="285.12" y2="903.6" stroke="#c9524f" stroke-width="1"/>
<line x1="376.07" y1="891.6" x2="376.07" y2="903.6" stroke="#c9524f" stroke-width="1"/>
<text x="330" y="892.5" font-size="7" fill="#b39390" text-anchor="middle" class="cad" letter-spacing="0.5">1.70</text>
<line x1="193.35" y1="916.6" x2="350.15" y2="916.6" stroke="#ae6c6a" stroke-width="1"/>
<line x1="196.85" y1="910.6" x2="196.85" y2="922.6" stroke="#c9524f" stroke-width="1"/>
<line x1="277.1" y1="910.6" x2="277.1" y2="922.6" stroke="#c9524f" stroke-width="1"/>
<line x1="285.12" y1="910.6" x2="285.12" y2="922.6" stroke="#c9524f" stroke-width="1"/>
<line x1="346.65" y1="910.6" x2="346.65" y2="922.6" stroke="#c9524f" stroke-width="1"/>
<text x="236" y="910.5" font-size="7" fill="#b39390" text-anchor="middle" class="cad" letter-spacing="0.5">1.50</text>
<text x="281" y="910.5" font-size="6.6" fill="#b39390" text-anchor="middle" class="cad">0.15</text>
<text x="326.5" y="909" font-size="7" fill="#b39390" text-anchor="middle" class="cad" letter-spacing="0.5">1.15</text>
<line x1="192.85" y1="1023.4" x2="342.62" y2="1023.4" stroke="#ae6c6a" stroke-width="1"/>
<line x1="196.85" y1="1017.4" x2="196.85" y2="1029.4" stroke="#c9524f" stroke-width="1"/>
<line x1="285.12" y1="1017.4" x2="285.12" y2="1029.4" stroke="#c9524f" stroke-width="1"/>
<line x1="338.62" y1="1017.4" x2="338.62" y2="1029.4" stroke="#c9524f" stroke-width="1"/>
<text x="240" y="1017.5" font-size="7" fill="#b39390" text-anchor="middle" class="cad" letter-spacing="0.5">1.63</text>
<text x="311" y="1017.5" font-size="7" fill="#b39390" text-anchor="middle" class="cad" letter-spacing="0.5">1.00</text>
<line x1="342.5" y1="1040.4" x2="495.3" y2="1040.4" stroke="#ae6c6a" stroke-width="1"/>
<line x1="346.65" y1="1034.4" x2="346.65" y2="1046.4" stroke="#c9524f" stroke-width="1"/>
<text x="421" y="1035.5" font-size="7" fill="#b39390" text-anchor="middle" class="cad" letter-spacing="0.5">2.675</text>
<line x1="385.5" y1="707.9" x2="414.8" y2="707.9" stroke="#d23a2e" stroke-width="1.3"/>
<line x1="387.5" y1="699.88" x2="399.5" y2="699.88" stroke="#ae6c6a" stroke-width="1"/>
<text x="731.1" y="803.8" font-size="7" fill="#b39390" text-anchor="middle" class="cad" letter-spacing="0.5">0.95</text>
<text x="664.1" y="803.8" font-size="7" fill="#b39390" text-anchor="middle" class="cad" letter-spacing="0.5">1.55</text>
<text x="557.6" y="801.5" font-size="7" fill="#b39390" text-anchor="middle" class="cad" letter-spacing="0.5">2.125</text>
<text x="618.4" y="803.8" font-size="6.6" fill="#b39390" text-anchor="middle" class="cad">0.15</text>
<line x1="614.53" y1="897.6" x2="705.48" y2="897.6" stroke="#ae6c6a" stroke-width="1"/>
<line x1="705.48" y1="891.6" x2="705.48" y2="903.6" stroke="#c9524f" stroke-width="1"/>
<line x1="614.53" y1="891.6" x2="614.53" y2="903.6" stroke="#c9524f" stroke-width="1"/>
<text x="660.6" y="892.5" font-size="7" fill="#b39390" text-anchor="middle" class="cad" letter-spacing="0.5">1.70</text>
<line x1="640.45" y1="916.6" x2="797.25" y2="916.6" stroke="#ae6c6a" stroke-width="1"/>
<line x1="793.75" y1="910.6" x2="793.75" y2="922.6" stroke="#c9524f" stroke-width="1"/>
<line x1="713.5" y1="910.6" x2="713.5" y2="922.6" stroke="#c9524f" stroke-width="1"/>
<line x1="705.48" y1="910.6" x2="705.48" y2="922.6" stroke="#c9524f" stroke-width="1"/>
<line x1="643.95" y1="910.6" x2="643.95" y2="922.6" stroke="#c9524f" stroke-width="1"/>
<text x="754.6" y="910.5" font-size="7" fill="#b39390" text-anchor="middle" class="cad" letter-spacing="0.5">1.50</text>
<text x="709.6" y="910.5" font-size="6.6" fill="#b39390" text-anchor="middle" class="cad">0.15</text>
<text x="664.1" y="909" font-size="7" fill="#b39390" text-anchor="middle" class="cad" letter-spacing="0.5">1.15</text>
<line x1="647.98" y1="1023.4" x2="797.75" y2="1023.4" stroke="#ae6c6a" stroke-width="1"/>
<line x1="793.75" y1="1017.4" x2="793.75" y2="1029.4" stroke="#c9524f" stroke-width="1"/>
<line x1="705.48" y1="1017.4" x2="705.48" y2="1029.4" stroke="#c9524f" stroke-width="1"/>
<line x1="651.98" y1="1017.4" x2="651.98" y2="1029.4" stroke="#c9524f" stroke-width="1"/>
<text x="750.6" y="1017.5" font-size="7" fill="#b39390" text-anchor="middle" class="cad" letter-spacing="0.5">1.63</text>
<text x="679.6" y="1017.5" font-size="7" fill="#b39390" text-anchor="middle" class="cad" letter-spacing="0.5">1.00</text>
<line x1="648.1" y1="1040.4" x2="495.3" y2="1040.4" stroke="#ae6c6a" stroke-width="1"/>
<line x1="643.95" y1="1034.4" x2="643.95" y2="1046.4" stroke="#c9524f" stroke-width="1"/>
<text x="569.6" y="1035.5" font-size="7" fill="#b39390" text-anchor="middle" class="cad" letter-spacing="0.5">2.675</text>
<line x1="605.1" y1="707.9" x2="575.8" y2="707.9" stroke="#d23a2e" stroke-width="1.3"/>
<line x1="603.1" y1="699.88" x2="591.1" y2="699.88" stroke="#ae6c6a" stroke-width="1"/>
<line x1="181.65" y1="1231.2" x2="397.8" y2="1231.2" stroke="#ae6c6a" stroke-width="1"/>
<line x1="808.95" y1="1231.2" x2="592.8" y2="1231.2" stroke="#ae6c6a" stroke-width="1"/>
<line x1="429" y1="1231.2" x2="495.3" y2="1231.2" stroke="#ae6c6a" stroke-width="1"/>
<line x1="561.6" y1="1231.2" x2="495.3" y2="1231.2" stroke="#ae6c6a" stroke-width="1"/>
<line x1="186.15" y1="1224.2" x2="186.15" y2="1238.2" stroke="#c9524f" stroke-width="1"/>
<line x1="804.45" y1="1224.2" x2="804.45" y2="1238.2" stroke="#c9524f" stroke-width="1"/>
<line x1="196.85" y1="1224.2" x2="196.85" y2="1238.2" stroke="#c9524f" stroke-width="1"/>
<line x1="793.75" y1="1224.2" x2="793.75" y2="1238.2" stroke="#c9524f" stroke-width="1"/>
<line x1="338.62" y1="1224.2" x2="338.62" y2="1238.2" stroke="#c9524f" stroke-width="1"/>
<line x1="651.98" y1="1224.2" x2="651.98" y2="1238.2" stroke="#c9524f" stroke-width="1"/>
<line x1="346.65" y1="1224.2" x2="346.65" y2="1238.2" stroke="#c9524f" stroke-width="1"/>
<line x1="643.95" y1="1224.2" x2="643.95" y2="1238.2" stroke="#c9524f" stroke-width="1"/>
<line x1="489.76" y1="1224.2" x2="489.76" y2="1238.2" stroke="#c9524f" stroke-width="1"/>
<line x1="500.84" y1="1224.2" x2="500.84" y2="1238.2" stroke="#c9524f" stroke-width="1"/>
<text x="191.5" y="1226.5" font-size="6.6" fill="#b39390" text-anchor="middle" class="cad">0.20</text>
<text x="268" y="1226.5" font-size="7" fill="#b39390" text-anchor="middle" class="cad" letter-spacing="0.5">2.65</text>
<text x="342.5" y="1226.5" font-size="6.6" fill="#b39390" text-anchor="middle" class="cad">0.15</text>
<text x="413" y="1241.8" font-size="7" fill="#b39390" text-anchor="middle" class="cad" letter-spacing="0.5">2.675</text>
<text x="340.5" y="1259.5" font-size="7" fill="#b39390" text-anchor="middle" class="cad" letter-spacing="0.5">5.775</text>
<text x="799.1" y="1226.5" font-size="6.6" fill="#b39390" text-anchor="middle" class="cad">0.20</text>
<text x="722.6" y="1226.5" font-size="7" fill="#b39390" text-anchor="middle" class="cad" letter-spacing="0.5">2.65</text>
<text x="648.1" y="1226.5" font-size="6.6" fill="#b39390" text-anchor="middle" class="cad">0.15</text>
<text x="577.6" y="1241.8" font-size="7" fill="#b39390" text-anchor="middle" class="cad" letter-spacing="0.5">2.675</text>
<text x="650.1" y="1259.5" font-size="7" fill="#b39390" text-anchor="middle" class="cad" letter-spacing="0.5">5.775</text>
<text x="495.3" y="1226.5" font-size="7" fill="#a8382f" text-anchor="middle" class="cad" font-weight="bold">0.20</text>
<line x1="181.65" y1="1264" x2="808.95" y2="1264" stroke="#ae6c6a" stroke-width="1"/>
<line x1="186.15" y1="1259.5" x2="186.15" y2="1268.5" stroke="#c9524f" stroke-width="1"/>
<line x1="495.3" y1="1259.5" x2="495.3" y2="1268.5" stroke="#c9524f" stroke-width="1"/>
<line x1="804.45" y1="1259.5" x2="804.45" y2="1268.5" stroke="#c9524f" stroke-width="1"/>
<line x1="181.65" y1="1287.6" x2="808.95" y2="1287.6" stroke="#ae6c6a" stroke-width="1"/>
<line x1="186.15" y1="1283.1" x2="186.15" y2="1292.1" stroke="#c9524f" stroke-width="1"/>
<line x1="804.45" y1="1283.1" x2="804.45" y2="1292.1" stroke="#c9524f" stroke-width="1"/>
<text x="494.3" y="1283" font-size="7" fill="#b39390" text-anchor="middle" class="cad" letter-spacing="0.5">11.55</text>
<line x1="130.1" y1="221" x2="130.1" y2="1623.9" stroke="#ae6c6a" stroke-width="1"/>
<line x1="121.1" y1="226" x2="139.1" y2="226" stroke="#c9524f" stroke-width="1"/>
<line x1="121.1" y1="1618.9" x2="139.1" y2="1618.9" stroke="#c9524f" stroke-width="1"/>
<text x="125" y="922" font-size="6.6" fill="#b39390" text-anchor="middle" class="cad" transform="rotate(-90 125 922)" letter-spacing="0.5">26.00</text>
<line x1="148.9" y1="630.68" x2="148.9" y2="1197.08" stroke="#ae6c6a" stroke-width="1"/>
<line x1="138.9" y1="635.68" x2="158.9" y2="635.68" stroke="#c9524f" stroke-width="1"/>
<line x1="138.9" y1="825.6" x2="158.9" y2="825.6" stroke="#c9524f" stroke-width="1"/>
<line x1="138.9" y1="1192.08" x2="158.9" y2="1192.08" stroke="#c9524f" stroke-width="1"/>
<text x="143.9" y="731" font-size="6.6" fill="#b39390" text-anchor="middle" class="cad" transform="rotate(-90 143.9 731)" letter-spacing="0.5">3.55</text>
<text x="143.9" y="1008" font-size="6.6" fill="#b39390" text-anchor="middle" class="cad" transform="rotate(-90 143.9 1008)" letter-spacing="0.5">6.85</text>
<line x1="168.9" y1="598.58" x2="168.9" y2="1623.9" stroke="#ae6c6a" stroke-width="1"/>
<line x1="158.9" y1="603.58" x2="178.9" y2="603.58" stroke="#c9524f" stroke-width="1"/>
<line x1="158.9" y1="635.68" x2="178.9" y2="635.68" stroke="#c9524f" stroke-width="1"/>
<line x1="158.9" y1="643.7" x2="178.9" y2="643.7" stroke="#c9524f" stroke-width="1"/>
<line x1="158.9" y1="825.6" x2="178.9" y2="825.6" stroke="#c9524f" stroke-width="1"/>
<line x1="158.9" y1="833.62" x2="178.9" y2="833.62" stroke="#c9524f" stroke-width="1"/>
<line x1="158.9" y1="972.73" x2="178.9" y2="972.73" stroke="#c9524f" stroke-width="1"/>
<line x1="158.9" y1="980.75" x2="178.9" y2="980.75" stroke="#c9524f" stroke-width="1"/>
<line x1="158.9" y1="1184.05" x2="178.9" y2="1184.05" stroke="#c9524f" stroke-width="1"/>
<line x1="158.9" y1="1192.08" x2="178.9" y2="1192.08" stroke="#c9524f" stroke-width="1"/>
<line x1="158.9" y1="1618.9" x2="178.9" y2="1618.9" stroke="#c9524f" stroke-width="1"/>
<text x="163.9" y="620" font-size="6.6" fill="#b39390" text-anchor="middle" class="cad" transform="rotate(-90 163.9 620)" letter-spacing="0.4">0.60</text>
<text x="163.9" y="640" font-size="6.6" fill="#b39390" text-anchor="middle" class="cad" transform="rotate(-90 163.9 640)" letter-spacing="0.4">0.15</text>
<text x="163.9" y="735" font-size="6.6" fill="#b39390" text-anchor="middle" class="cad" transform="rotate(-90 163.9 735)" letter-spacing="0.4">3.40</text>
<text x="163.9" y="830" font-size="6.6" fill="#b39390" text-anchor="middle" class="cad" transform="rotate(-90 163.9 830)" letter-spacing="0.4">0.15</text>
<text x="163.9" y="903" font-size="6.6" fill="#b39390" text-anchor="middle" class="cad" transform="rotate(-90 163.9 903)" letter-spacing="0.4">2.60</text>
<text x="163.9" y="977" font-size="6.6" fill="#b39390" text-anchor="middle" class="cad" transform="rotate(-90 163.9 977)" letter-spacing="0.4">0.15</text>
<text x="163.9" y="1098" font-size="6.6" fill="#b39390" text-anchor="middle" class="cad" transform="rotate(-90 163.9 1098)" letter-spacing="0.4">3.80</text>
<text x="163.9" y="1188.5" font-size="6.6" fill="#b39390" text-anchor="middle" class="cad" transform="rotate(-90 163.9 1188.5)" letter-spacing="0.4">0.15</text>
<text x="163.9" y="1405" font-size="6.6" fill="#b39390" text-anchor="middle" class="cad" transform="rotate(-90 163.9 1405)" letter-spacing="0.4">7.95</text>
<line x1="841.7" y1="630.68" x2="841.7" y2="1197.08" stroke="#ae6c6a" stroke-width="1"/>
<line x1="831.7" y1="635.68" x2="851.7" y2="635.68" stroke="#c9524f" stroke-width="1"/>
<line x1="831.7" y1="825.6" x2="851.7" y2="825.6" stroke="#c9524f" stroke-width="1"/>
<line x1="831.7" y1="1192.08" x2="851.7" y2="1192.08" stroke="#c9524f" stroke-width="1"/>
<text x="836.7" y="731" font-size="6.6" fill="#b39390" text-anchor="middle" class="cad" transform="rotate(-90 836.7 731)" letter-spacing="0.5">3.55</text>
<text x="836.7" y="1008" font-size="6.6" fill="#b39390" text-anchor="middle" class="cad" transform="rotate(-90 836.7 1008)" letter-spacing="0.5">6.85</text>
<line x1="821.7" y1="598.58" x2="821.7" y2="1623.9" stroke="#ae6c6a" stroke-width="1"/>
<line x1="811.7" y1="603.58" x2="831.7" y2="603.58" stroke="#c9524f" stroke-width="1"/>
<line x1="811.7" y1="635.68" x2="831.7" y2="635.68" stroke="#c9524f" stroke-width="1"/>
<line x1="811.7" y1="643.7" x2="831.7" y2="643.7" stroke="#c9524f" stroke-width="1"/>
<line x1="811.7" y1="825.6" x2="831.7" y2="825.6" stroke="#c9524f" stroke-width="1"/>
<line x1="811.7" y1="833.62" x2="831.7" y2="833.62" stroke="#c9524f" stroke-width="1"/>
<line x1="811.7" y1="972.73" x2="831.7" y2="972.73" stroke="#c9524f" stroke-width="1"/>
<line x1="811.7" y1="980.75" x2="831.7" y2="980.75" stroke="#c9524f" stroke-width="1"/>
<line x1="811.7" y1="1184.05" x2="831.7" y2="1184.05" stroke="#c9524f" stroke-width="1"/>
<line x1="811.7" y1="1192.08" x2="831.7" y2="1192.08" stroke="#c9524f" stroke-width="1"/>
<line x1="811.7" y1="1618.9" x2="831.7" y2="1618.9" stroke="#c9524f" stroke-width="1"/>
<text x="816.7" y="620" font-size="6.6" fill="#b39390" text-anchor="middle" class="cad" transform="rotate(-90 816.7 620)" letter-spacing="0.4">0.60</text>
<text x="816.7" y="640" font-size="6.6" fill="#b39390" text-anchor="middle" class="cad" transform="rotate(-90 816.7 640)" letter-spacing="0.4">0.15</text>
<text x="816.7" y="735" font-size="6.6" fill="#b39390" text-anchor="middle" class="cad" transform="rotate(-90 816.7 735)" letter-spacing="0.4">3.40</text>
<text x="816.7" y="830" font-size="6.6" fill="#b39390" text-anchor="middle" class="cad" transform="rotate(-90 816.7 830)" letter-spacing="0.4">0.15</text>
<text x="816.7" y="903" font-size="6.6" fill="#b39390" text-anchor="middle" class="cad" transform="rotate(-90 816.7 903)" letter-spacing="0.4">2.60</text>
<text x="816.7" y="977" font-size="6.6" fill="#b39390" text-anchor="middle" class="cad" transform="rotate(-90 816.7 977)" letter-spacing="0.4">0.15</text>
<text x="832.2" y="1098" font-size="6.6" fill="#b39390" text-anchor="middle" class="cad" transform="rotate(-90 832.2 1098)" letter-spacing="0.4">3.80</text>
<text x="816.7" y="1188.5" font-size="6.6" fill="#b39390" text-anchor="middle" class="cad" transform="rotate(-90 816.7 1188.5)" letter-spacing="0.4">0.15</text>
<text x="816.7" y="1405" font-size="6.6" fill="#b39390" text-anchor="middle" class="cad" transform="rotate(-90 816.7 1405)" letter-spacing="0.4">7.95</text>
<text x="399.4" y="612.6" font-size="7.5" fill="#666666" text-anchor="start" class="cadn" letter-spacing="0.2">Área Externa</text>
<text x="399.9" y="620.8" font-size="5.3" fill="#7a7a7a" text-anchor="start" class="cadn" letter-spacing="0.2">A: 4,15m²</text>
<text x="399.9" y="628.6" font-size="4.9" fill="#7a7a7a" text-anchor="start" class="cadn" font-style="italic" letter-spacing="0.2">Piso cerâmico</text>
<text x="254.4" y="773.4" font-size="7.5" fill="#666666" text-anchor="start" class="cadn" letter-spacing="0.2">Dormitório</text>
<text x="254.9" y="781.6" font-size="5.3" fill="#7a7a7a" text-anchor="start" class="cadn" letter-spacing="0.2">A:9,90 m²</text>
<text x="254.9" y="789.4" font-size="4.9" fill="#7a7a7a" text-anchor="start" class="cadn" font-style="italic" letter-spacing="0.2">Piso cerâmico</text>
<text x="412.8" y="755" font-size="7.5" fill="#666666" text-anchor="start" class="cadn" letter-spacing="0.2">Cozinha</text>
<text x="413.3" y="763.2" font-size="5.3" fill="#7a7a7a" text-anchor="start" class="cadn" letter-spacing="0.2">A: 6,90m²</text>
<text x="413.3" y="771" font-size="4.9" fill="#7a7a7a" text-anchor="start" class="cadn" font-style="italic" letter-spacing="0.2">Piso cerâmico</text>
<text x="229.4" y="853.2" font-size="7.5" fill="#666666" text-anchor="start" class="cadn" letter-spacing="0.2">Sanitário</text>
<text x="229.9" y="861.4" font-size="5.3" fill="#7a7a7a" text-anchor="start" class="cadn" letter-spacing="0.2">A: 3,90 m²</text>
<text x="229.9" y="869.2" font-size="4.9" fill="#7a7a7a" text-anchor="start" class="cadn" font-style="italic" letter-spacing="0.2">Piso cerâmico</text>
<text x="317.4" y="923.2" font-size="7.5" fill="#666666" text-anchor="start" class="cadn" letter-spacing="0.2">Circulação</text>
<text x="317.9" y="931.4" font-size="5.3" fill="#7a7a7a" text-anchor="start" class="cadn" letter-spacing="0.2">A: 1,27 m²</text>
<text x="317.9" y="939.2" font-size="4.9" fill="#7a7a7a" text-anchor="start" class="cadn" font-style="italic" letter-spacing="0.2">Piso cerâmico</text>
<text x="372" y="979.4" font-size="7.5" fill="#666666" text-anchor="start" class="cadn" letter-spacing="0.2">Living</text>
<text x="372.5" y="987.6" font-size="5.3" fill="#7a7a7a" text-anchor="start" class="cadn" letter-spacing="0.2">A: 12,30 m²</text>
<text x="372.5" y="995.4" font-size="4.9" fill="#7a7a7a" text-anchor="start" class="cadn" font-style="italic" letter-spacing="0.2">Piso cerâmico</text>
<text x="235.6" y="1034.6" font-size="7.5" fill="#666666" text-anchor="start" class="cadn" letter-spacing="0.2">Dormitório.</text>
<text x="236.1" y="1042.8" font-size="5.3" fill="#7a7a7a" text-anchor="start" class="cadn" letter-spacing="0.2">A: 10,67 m²</text>
<text x="236.1" y="1050.6" font-size="4.9" fill="#7a7a7a" text-anchor="start" class="cadn" font-style="italic" letter-spacing="0.2">Piso cerâmico</text>
<text x="510.6" y="612.6" font-size="7.5" fill="#666666" text-anchor="start" class="cadn" letter-spacing="0.2">Área Externa</text>
<text x="511.1" y="620.8" font-size="5.3" fill="#7a7a7a" text-anchor="start" class="cadn" letter-spacing="0.2">A: 4,15m²</text>
<text x="511.1" y="628.6" font-size="4.9" fill="#7a7a7a" text-anchor="start" class="cadn" font-style="italic" letter-spacing="0.2">Piso cerâmico</text>
<text x="701.4" y="778.2" font-size="7.5" fill="#666666" text-anchor="start" class="cadn" letter-spacing="0.2">Dormitório</text>
<text x="701.9" y="786.4" font-size="5.3" fill="#7a7a7a" text-anchor="start" class="cadn" letter-spacing="0.2">A:9,90 m²</text>
<text x="701.9" y="794.2" font-size="4.9" fill="#7a7a7a" text-anchor="start" class="cadn" font-style="italic" letter-spacing="0.2">Piso cerâmico</text>
<text x="543" y="755" font-size="7.5" fill="#666666" text-anchor="start" class="cadn" letter-spacing="0.2">Cozinha</text>
<text x="543.5" y="763.2" font-size="5.3" fill="#7a7a7a" text-anchor="start" class="cadn" letter-spacing="0.2">A: 6,90m²</text>
<text x="543.5" y="771" font-size="4.9" fill="#7a7a7a" text-anchor="start" class="cadn" font-style="italic" letter-spacing="0.2">Piso cerâmico</text>
<text x="721" y="855.4" font-size="7.5" fill="#666666" text-anchor="start" class="cadn" letter-spacing="0.2">Sanitário</text>
<text x="721.5" y="863.6" font-size="5.3" fill="#7a7a7a" text-anchor="start" class="cadn" letter-spacing="0.2">A: 3,90 m²</text>
<text x="721.5" y="871.4" font-size="4.9" fill="#7a7a7a" text-anchor="start" class="cadn" font-style="italic" letter-spacing="0.2">Piso cerâmico</text>
<text x="630.6" y="922.2" font-size="7.5" fill="#666666" text-anchor="start" class="cadn" letter-spacing="0.2">Circulação</text>
<text x="631.1" y="930.4" font-size="5.3" fill="#7a7a7a" text-anchor="start" class="cadn" letter-spacing="0.2">A: 1,27 m²</text>
<text x="631.1" y="938.2" font-size="4.9" fill="#7a7a7a" text-anchor="start" class="cadn" font-style="italic" letter-spacing="0.2">Piso cerâmico</text>
<text x="590.6" y="978.8" font-size="7.5" fill="#666666" text-anchor="start" class="cadn" letter-spacing="0.2">Living</text>
<text x="591.1" y="987" font-size="5.3" fill="#7a7a7a" text-anchor="start" class="cadn" letter-spacing="0.2">A: 12,30 m²</text>
<text x="591.1" y="994.8" font-size="4.9" fill="#7a7a7a" text-anchor="start" class="cadn" font-style="italic" letter-spacing="0.2">Piso cerâmico</text>
<text x="690.6" y="1034.6" font-size="7.5" fill="#666666" text-anchor="start" class="cadn" letter-spacing="0.2">Dormitório</text>
<text x="691.1" y="1042.8" font-size="5.3" fill="#7a7a7a" text-anchor="start" class="cadn" letter-spacing="0.2">A: 10,67 m²</text>
<text x="691.1" y="1050.6" font-size="4.9" fill="#7a7a7a" text-anchor="start" class="cadn" font-style="italic" letter-spacing="0.2">Piso cerâmico</text>
<text x="401.4" y="656.8" font-size="6.4" fill="#666666" text-anchor="start" class="cadn" letter-spacing="0.3">Janela</text>
<text x="402" y="665.2" font-size="6.9" fill="#666666" text-anchor="start" class="cadn" letter-spacing="0.5">60x60</text>
<text x="280.5" y="633.2" font-size="7.2" fill="#666666" text-anchor="middle" class="cadn" letter-spacing="0.3">1,50x1,20/0,90</text>
<text x="263" y="1203.2" font-size="7.2" fill="#666666" text-anchor="middle" class="cadn" letter-spacing="0.3">1,50x1,20/0,70</text>
<text x="446" y="1145.6" font-size="7.2" fill="#666666" text-anchor="middle" class="cadn" letter-spacing="0.3">1,40x1,60/0,50</text>
<text x="212.5" y="822.6" font-size="7.2" fill="#666666" text-anchor="middle" class="cadn" letter-spacing="0.3">0,50x0,70/1,40</text>
<text x="391" y="701.5" font-size="7.2" fill="#666666" text-anchor="start" class="cadn" transform="rotate(-90 391 701.5)" letter-spacing="0.3">0,80 / 2,10</text>
<text x="301" y="882" font-size="7.2" fill="#666666" text-anchor="start" class="cadn" transform="rotate(-90 301 882)" letter-spacing="0.3">0,80 / 2,10</text>
<text x="327" y="989" font-size="7.2" fill="#666666" text-anchor="start" class="cadn" transform="rotate(-90 327 989)" letter-spacing="0.3">0,80 / 2,10</text>
<text x="362.5" y="1133" font-size="7.2" fill="#666666" text-anchor="start" class="cadn" transform="rotate(-90 362.5 1133)" letter-spacing="0.3">0,90 / 2,10</text>
<text x="257" y="929.6" font-size="7.2" fill="#666666" text-anchor="middle" class="cadn" letter-spacing="0.4">0,80 / 2,10</text>
<text x="375" y="632.5" font-size="5.6" fill="#666666" text-anchor="start" class="cadn" transform="rotate(-90 375 632.5)" letter-spacing="0.1">churrasq.</text>
<text x="242.2" y="706.8" font-size="9" fill="#666666" text-anchor="start" class="cadn" transform="rotate(90 242.2 706.8)" textLength="9.4" lengthAdjust="spacingAndGlyphs">TV</text>
<text x="326" y="1124.2" font-size="9" fill="#666666" text-anchor="start" class="cadn" transform="rotate(90 326 1124.2)" textLength="9.4" lengthAdjust="spacingAndGlyphs">TV</text>
<text x="569.5" y="656.8" font-size="6.4" fill="#666666" text-anchor="start" class="cadn" letter-spacing="0.3">Janela</text>
<text x="565" y="665.2" font-size="6.9" fill="#666666" text-anchor="start" class="cadn" letter-spacing="0.5">60x60</text>
<text x="710.1" y="633.2" font-size="7.2" fill="#666666" text-anchor="middle" class="cadn" letter-spacing="0.3">1,50x1,20/0,90</text>
<text x="727.6" y="1203.2" font-size="7.2" fill="#666666" text-anchor="middle" class="cadn" letter-spacing="0.3">1,50x1,20/0,70</text>
<text x="544.6" y="1145.6" font-size="7.2" fill="#666666" text-anchor="middle" class="cadn" letter-spacing="0.3">1,40x1,60/0,50</text>
<text x="780.1" y="822.6" font-size="7.2" fill="#666666" text-anchor="middle" class="cadn" letter-spacing="0.3">0,50x0,70/1,40</text>
<text x="606.1" y="701.5" font-size="7.2" fill="#666666" text-anchor="start" class="cadn" transform="rotate(-90 606.1 701.5)" letter-spacing="0.3">0,80 / 2,10</text>
<text x="696.1" y="882" font-size="7.2" fill="#666666" text-anchor="start" class="cadn" transform="rotate(-90 696.1 882)" letter-spacing="0.3">0,80 / 2,10</text>
<text x="670.1" y="989" font-size="7.2" fill="#666666" text-anchor="start" class="cadn" transform="rotate(-90 670.1 989)" letter-spacing="0.3">0,80 / 2,10</text>
<text x="634.6" y="1133" font-size="7.2" fill="#666666" text-anchor="start" class="cadn" transform="rotate(-90 634.6 1133)" letter-spacing="0.3">0,90 / 2,10</text>
<text x="733.6" y="929.6" font-size="7.2" fill="#666666" text-anchor="middle" class="cadn" letter-spacing="0.4">0,80 / 2,10</text>
<text x="620.8" y="632.5" font-size="5.6" fill="#666666" text-anchor="start" class="cadn" transform="rotate(-90 620.8 632.5)" letter-spacing="0.1">churrasq.</text>
<text x="741.6" y="706.8" font-size="9" fill="#666666" text-anchor="start" class="cadn" transform="rotate(90 741.6 706.8)" textLength="9.4" lengthAdjust="spacingAndGlyphs">TV</text>
<text x="657.8" y="1124.2" font-size="9" fill="#666666" text-anchor="start" class="cadn" transform="rotate(90 657.8 1124.2)" textLength="9.4" lengthAdjust="spacingAndGlyphs">TV</text>
<text x="373" y="1006.6" font-size="10.4" fill="#111" text-anchor="start" class="ui" text-decoration="underline">0,15 m</text>
<line x1="372.6" y1="1008.4" x2="405.6" y2="1008.4" stroke="#111" stroke-width="0.9"/>
<text x="586.6" y="1006.6" font-size="10.4" fill="#111" text-anchor="start" class="ui">0,15 m</text>
<line x1="586.4" y1="1008.4" x2="618.6" y2="1008.4" stroke="#111" stroke-width="0.9"/>
<rect x="215.4" y="1331.3" width="126.9" height="52.6" fill="none" stroke="#555" stroke-width="1"/>
<rect x="648.2" y="1331.3" width="126.5" height="52.6" fill="none" stroke="#555" stroke-width="1"/>
<text x="220.8" y="1348.4" font-size="14.6" fill="#2c2c2c" text-anchor="start" class="cad" stroke="#2c2c2c" stroke-width="0.2" textLength="61.5" lengthAdjust="spacingAndGlyphs">CASA 02</text>
<text x="220.8" y="1373.6" font-size="14.6" fill="#2c2c2c" text-anchor="start" class="cad" stroke="#2c2c2c" stroke-width="0.2" textLength="104.3" lengthAdjust="spacingAndGlyphs">Área=56,83m²</text>
<text x="652" y="1348.4" font-size="14.6" fill="#2c2c2c" text-anchor="start" class="cad" stroke="#2c2c2c" stroke-width="0.2" textLength="59.6" lengthAdjust="spacingAndGlyphs">CASA 01</text>
<text x="652" y="1373.6" font-size="14.6" fill="#2c2c2c" text-anchor="start" class="cad" stroke="#2c2c2c" stroke-width="0.2" textLength="104.3" lengthAdjust="spacingAndGlyphs">Área=56,83m²</text>
<text x="198.6" y="1651.2" font-size="19.4" fill="#2c2c2c" text-anchor="start" class="cad" stroke="#2c2c2c" stroke-width="0.2" textLength="130.4" lengthAdjust="spacingAndGlyphs">PLANTA BAIXA</text>
<text x="194.6" y="1681.2" font-size="19.4" fill="#2c2c2c" text-anchor="start" class="cad" stroke="#2c2c2c" stroke-width="0.2" textLength="177.6" lengthAdjust="spacingAndGlyphs">Área = 113,66 m²</text>
<text x="194.6" y="1704.6" font-size="19.4" fill="#2c2c2c" text-anchor="start" class="cad" stroke="#2c2c2c" stroke-width="0.2" textLength="85.6" lengthAdjust="spacingAndGlyphs">Esc 1:50</text>
<text x="411.8" y="1616.4" font-size="8.6" fill="#555" text-anchor="start" class="cadn" transform="rotate(-90 411.8 1616.4)" textLength="190" lengthAdjust="spacingAndGlyphs">RAMPA - ACESSO DE VEÍCULOS I=2,50%</text>
<text x="588" y="1616.4" font-size="8.6" fill="#555" text-anchor="start" class="cadn" transform="rotate(-90 588 1616.4)" textLength="190" lengthAdjust="spacingAndGlyphs">RAMPA - ACESSO DE VEÍCULOS I=2,50%</text>
<text x="349.6" y="1402" font-size="7.9" fill="#666" text-anchor="start" class="cadn" textLength="93.4" lengthAdjust="spacingAndGlyphs">Vaga Carro Descoberta</text>
<text x="548.2" y="1402" font-size="7.9" fill="#666" text-anchor="start" class="cadn" textLength="93.4" lengthAdjust="spacingAndGlyphs">Vaga Carro Descoberta</text>
<circle cx="377" cy="484.5" r="15.3" fill="#fff" stroke="#333" stroke-width="0.9"/>
<text x="377" y="491.5" font-size="19" fill="#111" text-anchor="middle" class="ui">B</text>
<path d="M397.5 484.5 L407.3 466 L407.3 504 Z" fill="#d8392b" stroke="none" stroke-width="0"/>
<rect x="409.2" y="465" width="4" height="92.5" fill="#d8392b" stroke="none" stroke-width="0"/>
<rect x="409.2" y="1256.7" width="4" height="91.8" fill="#d8392b" stroke="none" stroke-width="0"/>
<path d="M397.6 1328.6 L407.3 1310.6 L407.3 1348.2 Z" fill="#d8392b" stroke="none" stroke-width="0"/>
<circle cx="376.5" cy="1328.4" r="15.3" fill="none" stroke="#333" stroke-width="0.9"/>
<text x="376.5" y="1338" font-size="19" fill="#111" text-anchor="middle" class="ui">B</text>
<circle cx="103.6" cy="983.4" r="15.3" fill="#fff" stroke="#333" stroke-width="0.9"/>
<text x="103.6" y="990.4" font-size="19" fill="#111" text-anchor="middle" class="ui">A</text>
<path d="M84 1013 L103.3 1004 L122.7 1013 Z" fill="#d8392b" stroke="none" stroke-width="0"/>
<rect x="84" y="1015.2" width="92.2" height="3.9" fill="#d8392b" stroke="none" stroke-width="0"/>
<circle cx="864.9" cy="983.2" r="15.3" fill="#fff" stroke="#333" stroke-width="0.9"/>
<text x="864.9" y="990.2" font-size="19" fill="#111" text-anchor="middle" class="ui">A</text>
<path d="M846.1 1013 L864.9 1004 L884.8 1013 Z" fill="#d8392b" stroke="none" stroke-width="0"/>
<rect x="793" y="1015.2" width="91.8" height="3.9" fill="#d8392b" stroke="none" stroke-width="0"/>
<g fill-rule="evenodd"><path d="M467.5 1078 L390 1001 C381 992 376 978 376.3 963 C377 938 397 918 423 918 C438 918 449 923 458 932 L474 950 C480 953 490 955 497 957 C512 961 523.5 978 523.5 998 C523.5 1008 521 1016 514 1026 Z M467 1040 L447 1018 C442 1012 439.4 1006 439.4 999 C439.4 984 452 972.3 467 972.3 C482 972.3 494.6 984 494.6 999 C494.6 1006 492 1012 487 1018 Z" fill="#8ecbec" fill-opacity="0.32"/><clipPath id="pinclip"><path d="M467.5 1078 L390 1001 C381 992 376 978 376.3 963 C377 938 397 918 423 918 C438 918 449 923 458 932 L474 950 C480 953 490 955 497 957 C512 961 523.5 978 523.5 998 C523.5 1008 521 1016 514 1026 Z"/></clipPath><path clip-path="url(#pinclip)" d="M474 950 L530 955 L530 1030 L467.5 1080 L440 1052 L467 1040 L487 1018 C492 1012 494.600 1006 494.600 999 C494.600 984 482 972.300 467 972.300 L462 960 Z" fill="#5a9fd0" fill-opacity="0.14"/></g>
</svg>
<div id="badge" class="abs">1/1<i class="m" style="left:33.500px;top:45.600px;width:6.800px;height:3.800px"></i><i class="m" style="left:43.700px;top:45.600px;width:5.900px;height:3.800px"></i><i class="m" style="left:61px;top:45.600px;width:7px;height:3.800px"></i><i class="m" style="left:71px;top:45.600px;width:6.500px;height:3.800px"></i></div>
<div class="tool abs" style="left:95px;letter-spacing:-0.35px">
<svg width="60" height="58" viewBox="165 1782 60 58"><g fill="none" stroke="#2e2e2e" stroke-width="4.1" stroke-linecap="round" stroke-linejoin="round">
<rect x="177.2" y="1800.2" width="38" height="21.2" rx="5.6" transform="rotate(-43 196.2 1810.8)"/>
<path d="M172.4 1802.4 C173.4 1796.6 177 1792 182.6 1790.4"/><path d="M178.8 1788.6 l4.6 1.4 l-1.8 4.4"/>
<path d="M219.4 1819.4 C218.4 1825.2 214.6 1829.8 209 1831.4"/><path d="M212.8 1833.2 l-4.6 -1.4 l1.8 -4.4"/>
</g></svg><span>Girar</span></div>
<div class="tool abs" style="left:267.7px;letter-spacing:-0.4px">
<svg width="60" height="58" viewBox="337.7 1782 60 58"><path d="M357.300 1793 Q357.300 1788.600 361.200 1790.800 L391.800 1808.300 Q394.800 1810.500 391.800 1812.700 L361.200 1830.300 Q357.300 1832.500 357.300 1828.200 Z" fill="none" stroke="#2e2e2e" stroke-width="4.1" stroke-linejoin="round"/></svg><span>Apresentaç..</span></div>
<div class="tool abs" style="left:438.7px;letter-spacing:0.2px">
<svg width="60" height="58" viewBox="508.700 1782 60 58"><g fill="none" stroke="#2e2e2e" stroke-width="4.1" stroke-linecap="round" stroke-linejoin="round">
<path d="M530 1802.500 h-5 a4.500 4.500 0 0 0 -4.500 4.500 v19.500 a4.500 4.500 0 0 0 4.500 4.500 h26.500 a4.500 4.500 0 0 0 4.500 -4.500 v-19.500 a4.500 4.500 0 0 0 -4.500 -4.500 h-5"/>
<path d="M538.300 1815 v-25 M530.300 1797 l8 -8 l8 8"/>
</g></svg><span>Compartilhar</span></div>
<div class="tool abs" style="left:603.4px;letter-spacing:-0.1px">
<svg width="60" height="58" viewBox="673.400 1782 60 58"><g fill="none" stroke="#2e2e2e" stroke-width="4.1" stroke-linecap="round">
<circle cx="700" cy="1807.300" r="16"/><path d="M712 1819.300 l12 10.800"/>
</g></svg><span>Pesquisar</span></div>
<svg id="nav" class="abs" width="899" height="100" viewBox="0 1900 899 100">
<rect x="238" y="1932" width="32" height="31.500" rx="5.500" fill="#757575"/>
<circle cx="449.500" cy="1947.300" r="19.500" fill="none" stroke="#757575" stroke-width="3.600"/>
<circle cx="449.500" cy="1947.300" r="11.500" fill="#757575"/>
<path d="M656.500 1931.500 L630 1947.500 L656.500 1964 Z" fill="#757575" stroke="#757575" stroke-width="3" stroke-linejoin="round"/>
</svg>
</body>
</html>
